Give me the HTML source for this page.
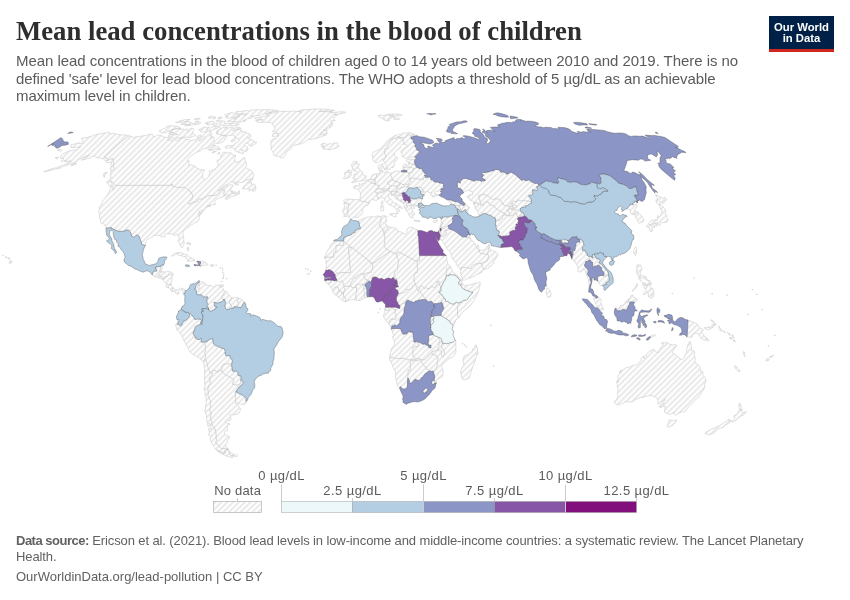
<!DOCTYPE html>
<html lang="en"><head><meta charset="utf-8"><title>Mean lead concentrations in the blood of children</title>
<style>
html,body{margin:0;padding:0;background:#fff;}
body{width:850px;height:600px;position:relative;overflow:hidden;font-family:"Liberation Sans",sans-serif;}
.abs{position:absolute;white-space:nowrap;will-change:transform;}
#title{left:16px;top:15.3px;font-family:"Liberation Serif",serif;font-weight:700;font-size:26.72px;line-height:32px;color:#2e2e2e;letter-spacing:0px;}
.sub{left:16px;font-size:15px;line-height:18px;color:#5b5b5b;}
.foot{left:16px;font-size:13px;line-height:16px;color:#616161;}
#logo{left:769px;top:16px;width:65px;height:33px;background:#002147;border-bottom:3px solid #ce261e;color:#fff;font-weight:700;font-size:11.3px;line-height:11.6px;text-align:center;}
#logo div{position:absolute;left:0;width:65px;text-align:center;}
svg{position:absolute;left:0;top:0;will-change:transform;}
.lg{font-size:13px;fill:#5b5b5b;font-family:"Liberation Sans",sans-serif;letter-spacing:0.42px;}
</style></head>
<body>
<svg width="850" height="600" viewBox="0 0 850 600">
<defs>
 <pattern id="hatch" patternUnits="userSpaceOnUse" width="4.137" height="4.137" patternTransform="rotate(45)">
  <rect width="4.137" height="4.137" fill="#fff"/>
  <line x1="2.79" y1="-1" x2="2.79" y2="6" stroke="#e8e8e8" stroke-width="1.9"/>
 </pattern>
</defs>
<g id="map" stroke-linejoin="round" fill-rule="evenodd">
<g fill="url(#hatch)" stroke="#c2c2c2" stroke-width="0.5">
<path d="M131.3,136.3L133.3,137.4L136.6,136.7L140.5,136.3L145.7,135.4L148.4,134.7L151.7,134.1L152.5,134.5L153.3,136.3L155.4,136.5L157.3,135.0L161.2,135.6L165.2,137.4L169.5,137.6L170.7,138.7L167.3,139.8L172.4,140.3L176.4,139.6L177.1,140.9L180.0,139.8L179.1,138.9L180.9,138.1L184.5,137.8L185.4,138.5L186.1,139.6L188.2,139.4L190.2,140.4L193.2,140.0L195.8,140.0L196.6,138.7L198.4,138.3L200.4,139.1L198.8,141.2L201.2,139.4L202.5,139.5L205.2,137.2L204.5,135.8L203.3,135.0L205.6,132.6L208.9,131.1L210.8,131.3L211.5,132.4L211.8,134.7L209.4,135.8L212.2,136.3L210.3,138.5L213.9,136.8L214.8,138.3L213.1,139.8L213.6,141.4L216.5,139.8L219.2,137.8L221.2,135.4L223.3,135.6L225.6,135.9L227.0,137.0L226.4,138.1L224.2,139.3L224.6,140.5L223.6,141.6L219.2,143.2L216.6,143.5L215.2,142.8L213.9,144.0L210.9,145.9L209.8,146.9L206.5,148.5L203.9,148.6L201.8,149.6L200.6,151.1L198.3,151.5L194.8,153.3L191.0,156.0L189.0,157.9L186.9,160.7L189.5,161.0L188.8,163.3L188.5,165.2L191.4,164.7L194.3,165.8L195.6,166.7L196.3,167.9L198.3,168.6L199.8,169.6L202.8,169.7L204.8,170.0L203.4,172.1L202.7,174.5L202.7,177.4L204.5,179.8L206.4,179.1L208.7,176.4L209.6,172.6L209.0,171.1L212.6,170.1L215.6,168.4L217.6,166.6L218.3,164.9L218.1,162.9L216.8,161.0L220.5,158.5L220.8,156.3L222.4,152.7L224.0,152.1L226.7,152.7L228.3,153.0L230.3,152.4L231.5,153.2L232.9,154.6L233.0,155.4L236.1,155.6L235.1,157.7L234.2,160.6L235.6,161.0L236.3,162.5L239.7,161.1L242.8,158.5L244.4,157.3L244.9,159.5L246.0,162.6L246.8,165.5L245.4,167.0L247.3,168.4L252.4,171.2L252.4,173.3L253.7,173.7L254.1,174.6L253.3,177.4L251.6,178.4L249.9,179.3L246.2,180.2L243.1,182.2L239.6,182.6L235.4,182.1L232.5,182.1L230.3,182.3L228.0,184.1L225.0,185.2L220.9,188.6L217.7,190.9L219.6,190.5L224.0,187.2L229.0,185.0L232.1,184.8L233.5,186.0L231.0,187.7L230.7,190.5L230.8,192.4L233.1,193.7L236.6,193.3L239.5,190.5L239.1,192.3L240.1,193.2L237.1,194.9L232.1,196.5L229.7,197.5L226.8,199.3L225.3,199.2L225.9,197.0L230.1,194.9L226.8,194.9L224.4,195.2L224.5,196.1L224.4,195.2L223.5,193.8L224.7,190.3L224.0,189.6L222.5,190.0L222.1,189.3L219.9,191.3L218.5,193.2L217.4,194.4L216.4,194.8L215.7,194.9L215.3,195.6L208.3,195.6L207.2,196.1L204.0,198.1L203.0,199.1L199.0,199.1L197.9,199.5L198.1,200.1L198.0,200.8L197.8,201.1L194.6,202.4L192.3,202.8L189.4,204.2L188.8,204.2L188.3,203.8L188.3,203.1L189.1,202.2L190.6,200.8L191.8,199.3L192.3,197.0L192.8,194.7L191.1,193.5L191.5,193.1L191.4,192.7L190.8,192.7L190.6,192.3L190.7,191.7L189.9,191.6L189.6,191.4L189.6,190.7L188.4,189.9L187.1,189.1L185.6,188.1L184.1,187.2L182.0,187.9L181.3,187.9L179.1,187.2L177.3,187.6L175.7,186.8L173.8,186.4L172.5,186.2L172.1,185.8L172.4,184.4L171.7,184.4L171.3,185.4L161.5,185.4L151.4,185.4L141.3,185.4L127.2,185.4L121.2,185.4L115.6,185.4L115.6,185.4L115.2,185.4L113.0,182.9L112.4,181.8L109.6,180.7L110.0,178.6L111.5,177.0L109.8,175.9L111.1,173.9L110.3,172.1L111.3,170.8L111.3,170.8L113.3,169.6L114.6,168.1L112.9,166.4L113.7,162.0L113.0,159.8L113.0,158.6L110.5,159.3L107.3,160.8L107.0,158.1L104.1,157.4L110.9,151.0L118.6,144.1L128.4,135.9ZM113.3,186.6L112.1,186.9L109.4,185.9L108.3,184.1L108.5,183.3L106.7,182.8L107.0,181.6L107.5,180.9L109.2,181.4L110.2,181.8L111.9,182.1L112.2,184.1L113.4,185.2ZM105.5,172.7L107.5,172.5L104.6,175.3L104.7,177.3L103.9,177.3L103.6,176.2L103.8,175.0L103.5,174.3L104.0,173.2L104.8,172.4ZM252.8,179.6L251.2,181.1L249.2,183.3L250.8,182.5L252.0,183.0L251.0,183.9L252.5,184.6L253.7,183.9L255.4,184.7L254.3,186.6L255.8,186.2L255.7,187.5L255.9,189.1L254.5,191.3L253.5,191.4L252.3,191.0L253.3,188.9L252.8,188.6L249.8,190.8L248.6,190.7L250.4,189.5L248.6,188.9L246.4,189.0L242.5,188.9L242.4,188.2L243.9,187.3L243.3,186.6L245.5,185.0L248.8,181.0L250.5,179.6L252.5,178.7L253.4,178.8ZM233.8,183.2L234.6,182.9L237.0,183.6L238.6,184.6L238.6,185.1L237.6,185.1L235.2,184.4ZM232.4,190.4L232.7,191.6L234.1,192.0L236.0,191.9L234.7,193.0L233.9,193.1L231.6,192.0L231.3,191.2ZM225.2,128.4L225.3,129.7L228.2,128.0L233.0,127.2L233.9,129.3L232.6,130.7L236.3,130.1L238.4,129.3L241.2,130.3L242.7,131.3L242.2,132.3L245.6,131.8L246.4,133.2L249.8,134.0L250.7,134.9L251.0,136.9L247.3,138.0L250.4,139.4L252.8,139.9L254.2,142.0L256.8,142.2L255.5,143.7L251.0,146.4L249.4,145.4L247.9,143.2L245.4,143.5L244.5,144.8L245.6,146.1L247.5,147.2L247.8,147.8L247.8,150.1L246.4,151.8L244.4,151.2L241.0,149.3L242.4,151.3L243.5,152.7L243.4,153.6L239.0,152.6L235.9,151.3L234.4,150.1L235.3,149.5L233.4,148.3L231.5,147.1L231.1,147.8L225.8,148.2L224.8,147.4L227.0,145.7L230.3,145.6L234.1,145.4L234.0,144.5L235.3,143.4L238.8,141.2L239.0,140.2L238.8,139.4L236.9,138.4L234.0,137.6L235.4,137.0L234.6,135.7L233.2,135.5L232.4,134.8L231.1,135.5L227.9,135.7L222.2,135.2L219.2,134.6L216.8,134.3L216.1,133.5L218.6,132.5L216.3,132.5L217.6,130.3L220.5,128.5L223.0,127.6L227.5,127.1ZM236.2,127.1L239.5,127.4L241.4,128.5L241.1,129.1L239.4,129.0L237.7,129.0L235.7,129.3L235.4,129.2L234.5,128.0L235.2,127.3ZM214.9,144.9L214.5,145.9L215.6,145.5L216.2,146.1L217.6,146.9L219.2,147.6L218.6,148.8L220.0,148.6L220.8,149.3L218.8,150.1L216.4,149.5L216.1,148.5L213.5,149.7L210.2,150.9L210.5,149.5L207.9,149.8L210.2,148.6L211.7,146.8L213.7,144.7ZM216.4,151.3L213.2,153.0L212.0,153.0L212.0,152.3L214.0,151.3ZM219.2,152.5L219.9,152.5L220.1,153.0L218.6,154.3L217.9,154.1L217.9,153.3ZM234.7,138.9L235.7,139.6L235.1,140.5L234.6,140.9L233.1,141.5L231.1,141.6L231.4,140.5L233.0,139.3ZM192.0,133.0L195.7,135.1L194.7,136.1L191.8,136.3L192.1,137.1L190.8,137.9L188.1,137.6L185.7,137.0L183.7,137.1L179.8,137.9L172.0,138.4L172.1,137.3L170.5,136.7L168.7,137.0L168.5,135.3L169.9,135.0L172.8,134.6L175.0,134.8L177.6,134.4L174.9,133.9L171.2,134.0L168.9,134.0L168.9,133.2L173.7,132.3L171.1,132.4L168.9,131.8L172.1,130.2L174.2,129.3L180.0,128.1L181.1,128.5L179.2,129.5L183.5,128.8L184.5,129.9L187.5,128.8L188.2,129.5L187.3,131.6L189.1,130.7L190.2,128.5L192.0,128.2L193.2,128.6L194.1,129.4L193.0,131.5ZM167.8,131.2L166.8,132.2L161.3,133.2L161.5,132.3L159.1,131.1L160.9,130.2L163.9,128.7L167.0,127.3L167.1,126.0L172.9,125.7L174.5,126.2L178.4,126.3L179.2,126.9L179.9,127.7L177.2,128.3L171.6,129.7ZM204.7,127.0L206.1,127.4L209.2,127.1L209.0,127.7L206.5,128.8L208.1,129.7L206.0,131.6L202.5,132.4L201.2,132.2L200.8,131.4L198.4,129.8L199.1,129.1L202.1,129.3L201.8,128.0ZM213.8,129.2L210.7,130.8L208.9,130.7L209.7,128.9L210.7,127.8L212.4,126.9L214.5,126.4L217.7,126.4L220.2,126.9L216.1,128.8ZM201.7,135.5L202.4,135.9L202.5,136.3L202.8,137.1L201.2,137.9L199.5,137.2L197.9,137.5L196.5,136.5L198.5,135.8L200.5,134.9ZM221.6,121.0L224.6,121.0L225.2,121.7L224.1,122.4L225.3,122.9L225.8,123.4L227.8,123.4L229.9,123.6L232.8,123.2L236.0,123.0L238.4,123.2L239.4,123.9L239.0,124.8L237.5,125.3L234.8,125.7L233.0,125.5L228.2,125.8L225.0,125.8L222.7,125.6L219.2,124.9L219.8,123.8L220.7,122.8L220.2,121.9L217.3,121.7L216.2,121.1L217.8,120.3L220.7,120.4ZM269.8,109.8L273.3,110.0L276.1,110.2L278.2,110.6L277.8,111.0L273.8,111.7L270.1,112.0L268.5,112.4L271.5,112.4L267.3,113.4L264.5,113.9L260.7,115.3L257.5,115.6L256.2,115.9L251.6,116.1L253.4,116.4L252.0,116.7L252.4,117.6L250.3,118.3L247.5,118.8L246.0,119.6L243.4,120.2L243.1,120.6L245.8,120.5L245.4,121.0L240.2,122.2L236.7,121.7L231.9,122.0L229.9,121.7L227.2,121.6L228.0,120.7L231.3,120.2L232.1,118.8L233.2,118.7L236.2,119.5L235.5,118.3L233.6,117.9L235.6,117.2L238.6,116.8L239.8,116.1L238.6,115.4L239.0,114.5L242.8,114.6L243.7,114.8L246.6,114.1L243.7,113.9L238.6,114.0L236.8,113.5L236.5,112.8L235.4,112.3L235.9,111.7L238.3,111.4L240.0,111.4L243.1,111.1L245.8,110.5L247.4,110.6L248.4,111.1L250.4,110.2L252.5,110.0L255.2,109.8L259.4,109.7L259.9,109.9L264.1,109.7L267.0,109.7ZM237.7,115.5L238.7,116.1L236.1,116.7L231.8,118.1L229.1,118.2L226.3,118.0L225.6,117.2L226.5,116.5L228.2,116.0L225.5,116.1L224.7,115.4L224.8,114.7L226.8,113.9L228.5,113.4L230.1,113.3L230.0,112.9L233.4,112.8L234.0,113.7L235.9,114.1L237.9,114.4ZM198.0,122.2L197.8,122.9L199.5,122.6L201.0,122.6L200.1,123.6L198.0,124.6L192.4,124.9L187.4,125.8L184.9,125.8L185.5,125.2L189.9,124.3L182.6,124.5L180.9,124.2L185.6,122.2L187.9,121.6L191.2,122.3L192.4,123.5L194.9,123.6L195.2,121.7L197.5,121.0L198.8,121.2ZM214.2,122.1L213.0,123.1L210.6,124.6L207.9,124.8L206.6,124.5L207.9,123.3L205.2,123.5L207.0,121.9L208.6,122.0L211.7,121.3L213.7,121.4ZM190.0,119.3L187.6,120.8L185.4,121.5L183.9,121.6L179.8,122.5L176.9,122.8L175.5,122.3L180.2,120.9L185.2,119.6L187.5,119.6ZM217.2,123.3L217.8,124.0L216.0,125.4L213.9,125.3L212.6,124.7L214.4,123.8ZM219.1,117.0L220.8,117.0L221.6,117.2L222.5,117.8L221.3,118.5L218.6,118.9L217.9,118.5L218.2,117.7ZM208.2,117.9L210.4,117.3L209.3,116.9L210.1,116.2L212.7,116.4L215.7,117.1L215.6,118.0L215.2,118.8L213.1,118.6L211.4,118.0ZM194.2,119.1L196.2,118.5L198.7,118.3L200.3,118.6L199.0,119.2L195.5,119.8Z"/>
<path d="M115.6,185.4L121.2,185.4L127.2,185.4L141.3,185.4L151.4,185.4L161.5,185.4L171.3,185.4L171.7,184.4L172.4,184.4L172.1,185.8L172.5,186.2L173.8,186.4L175.7,186.8L177.3,187.6L179.1,187.2L181.3,187.9L182.0,187.9L184.1,187.2L185.6,188.1L187.1,189.1L188.4,189.9L189.6,190.7L189.6,191.4L189.9,191.6L190.7,191.7L190.6,192.3L190.8,192.7L191.4,192.7L191.5,193.1L191.1,193.5L192.8,194.7L192.3,197.0L191.8,199.3L190.6,200.8L189.1,202.2L188.3,203.1L188.3,203.8L188.8,204.2L189.4,204.2L192.3,202.8L194.6,202.4L197.8,201.1L198.0,200.8L198.1,200.1L197.9,199.5L199.0,199.1L203.0,199.1L204.0,198.1L207.2,196.1L208.3,195.6L215.3,195.6L215.7,194.9L216.4,194.8L217.4,194.4L218.5,193.2L219.9,191.3L222.1,189.3L222.5,190.0L224.0,189.6L224.7,190.3L223.5,193.8L224.4,195.2L224.5,196.1L224.5,196.1L221.9,197.3L219.4,198.2L217.0,199.0L215.4,200.5L214.4,202.5L215.5,204.4L213.1,204.6L210.4,205.2L207.1,206.1L210.4,205.6L210.8,206.1L207.6,206.9L206.3,206.9L205.6,207.3L206.2,207.4L205.1,209.3L203.0,211.3L203.0,210.6L202.6,210.5L202.1,209.8L202.1,211.2L202.5,211.7L202.3,212.7L201.3,213.7L199.5,215.8L199.3,215.7L200.5,213.9L199.7,212.9L200.1,210.7L199.3,211.9L199.3,213.5L198.0,213.1L199.2,214.0L198.6,216.4L199.2,216.6L199.2,217.5L198.8,220.1L196.9,222.1L194.4,222.9L192.6,224.4L191.5,224.6L190.1,225.5L189.6,226.4L186.8,228.1L185.2,229.3L183.8,230.9L183.0,232.7L183.0,234.6L183.3,236.8L183.9,238.7L183.7,239.8L184.2,242.8L183.8,244.6L183.6,245.6L182.8,247.2L182.0,247.5L181.0,247.2L180.8,246.1L180.1,245.5L179.3,243.2L178.6,241.2L178.4,240.2L179.3,238.5L178.9,237.0L177.7,234.8L176.9,234.4L174.4,235.6L174.0,235.5L173.2,234.3L172.0,233.6L169.4,234.0L167.5,233.7L165.8,233.8L164.8,234.2L165.0,234.9L164.7,236.0L165.1,236.5L164.6,236.9L163.8,236.5L162.9,237.0L161.3,236.9L160.0,235.5L158.0,235.8L156.5,235.2L155.1,235.4L153.1,236.0L150.6,238.0L148.1,239.1L146.6,240.3L145.8,241.5L145.4,243.3L145.3,244.6L145.5,245.5L145.5,245.5L144.7,245.5L141.6,244.1L141.1,241.2L140.2,239.6L139.1,236.2L137.7,235.2L135.9,235.3L134.1,237.4L131.4,235.7L131.0,233.1L128.6,230.1L124.9,230.1L124.5,231.3L118.3,231.3L111.0,228.1L111.4,227.6L106.0,228.1L106.0,228.1L106.1,226.7L105.2,225.2L104.3,224.9L104.4,224.1L103.2,224.0L102.7,223.3L100.8,223.0L100.4,222.6L100.7,221.2L99.7,218.5L99.5,214.9L99.9,214.3L99.3,213.5L98.7,211.3L99.5,209.1L99.1,207.7L100.7,205.6L101.8,203.3L102.3,201.4L104.5,198.9L107.8,194.3L109.5,190.8L110.2,188.6L110.4,187.5L110.9,186.9L113.3,187.8L112.9,190.2L113.8,189.6L114.8,187.5L115.6,185.4ZM128.4,135.9L125.5,134.8L121.9,134.9L119.0,134.7L116.5,134.0L112.9,133.4L109.4,133.7L109.6,132.7L107.8,132.2L103.6,133.4L102.3,133.2L95.8,134.5L90.6,136.6L87.1,137.5L84.0,137.6L81.3,138.8L82.6,139.5L83.0,140.4L82.6,141.6L83.6,142.4L83.1,143.8L81.1,142.8L79.3,143.9L79.7,142.8L74.8,143.9L70.6,144.9L71.2,146.2L70.5,147.1L72.4,147.7L75.2,147.4L75.9,147.9L77.1,147.4L79.6,146.9L80.7,146.9L78.3,147.8L78.7,148.2L77.7,149.2L75.5,150.0L74.4,149.8L71.6,150.9L70.8,150.5L69.2,150.7L67.0,151.9L63.9,153.2L61.5,154.6L61.6,155.6L60.0,156.9L60.6,157.5L60.8,158.6L63.7,158.2L63.9,159.0L62.5,159.9L61.0,161.3L62.2,161.3L65.1,160.4L64.5,161.6L65.9,160.7L65.8,162.0L67.8,161.1L67.9,161.5L70.9,160.7L68.3,162.2L66.0,164.0L63.7,164.9L59.8,166.4L58.5,166.8L56.5,167.8L53.8,168.1L50.3,169.5L47.6,170.2L44.3,171.4L44.1,171.8L48.2,171.1L50.7,170.3L53.5,169.4L56.0,168.7L57.2,168.9L60.5,167.9L62.3,166.7L66.6,165.5L68.3,164.4L71.0,163.6L74.1,162.6L77.7,160.9L77.6,159.7L82.2,158.0L85.2,156.4L89.0,155.1L88.8,155.7L86.1,156.4L82.7,158.8L81.4,160.2L84.0,159.7L86.5,158.8L90.4,158.2L91.8,156.5L94.4,156.0L95.4,157.1L97.9,158.1L100.7,158.0L104.3,159.3L105.7,161.8L107.2,162.5L110.1,162.5L111.8,162.7L110.7,165.0L111.3,167.0L110.0,169.1L111.0,169.9L111.3,170.8L111.3,170.8L113.3,169.6L114.6,168.1L112.9,166.4L113.7,162.0L113.0,159.8L113.0,158.6L110.5,159.3L107.3,160.8L107.0,158.1L104.1,157.4L110.9,151.0L118.6,144.1L128.4,135.9ZM76.7,163.9L76.2,163.0L75.4,163.0L73.2,163.8L71.4,164.3L70.6,165.4L71.5,165.8L73.7,165.1L75.2,164.4ZM58.3,149.2L58.8,149.7L60.2,149.4L60.9,150.0L62.2,150.3L61.8,150.6L59.8,151.1L59.1,150.6L59.0,150.2L57.2,150.3L57.1,150.1ZM57.6,157.2L58.8,157.5L57.8,158.4L56.2,158.7L55.6,158.3L55.2,157.6ZM10.2,263.2L9.7,263.6L9.2,263.3L9.5,262.5L9.3,261.6L9.5,261.3L10.0,260.9L10.0,260.4L10.2,260.1L11.4,260.8L11.7,261.2L12.1,262.1L11.0,262.8ZM9.9,259.1L9.1,259.3L8.8,258.8L8.6,258.6L8.6,258.4L8.9,258.2L9.7,258.4L10.1,258.8ZM8.7,257.7L8.5,258.0L7.3,257.9L7.6,257.6ZM6.8,257.4L6.6,257.5L5.7,257.4L5.5,256.8L5.5,256.7L6.1,256.3L6.3,256.5ZM3.3,255.6L3.0,255.9L2.4,255.4L2.5,255.2L2.9,255.0L3.4,255.0Z"/>
<path d="M162.5,264.7L162.5,265.1L162.9,265.1L162.8,265.8L162.3,267.0L162.4,267.4L162.1,268.3L162.2,268.6L161.7,269.9L161.2,270.6L160.8,270.7L160.3,271.6L159.6,271.6L160.1,268.6L160.4,266.6L160.4,266.2L160.7,266.1L161.1,266.4L162.1,264.8Z"/>
<path d="M152.3,275.1L152.5,274.3L152.8,273.7L152.5,273.2L153.9,271.1L156.8,271.1L157.0,270.2L156.6,270.1L156.4,269.5L155.7,268.9L154.9,268.0L156.0,268.0L156.1,266.5L158.3,266.5L160.4,266.6L160.1,268.6L159.6,271.6L160.3,271.6L161.0,272.0L161.2,271.7L161.8,272.0L160.7,273.0L159.5,273.7L159.3,274.2L159.4,274.7L158.9,275.4L158.3,275.6L158.4,275.9L158.0,276.2L157.1,276.8L157.0,277.2L155.9,276.8L154.5,276.7L153.5,276.2Z"/>
<path d="M157.0,277.2L157.1,276.8L158.0,276.2L158.4,275.9L158.3,275.6L158.9,275.4L159.5,275.6L160.0,276.2L160.6,276.6L160.7,276.9L161.7,276.6L162.2,276.8L162.5,277.1L162.2,278.1L161.9,278.7L160.6,278.7L159.8,278.5L158.9,277.9L157.6,277.8Z"/>
<path d="M162.2,278.1L162.5,277.1L162.2,276.8L161.7,276.6L160.7,276.9L160.6,276.6L160.0,276.2L159.5,275.6L158.9,275.4L159.4,274.7L159.3,274.2L159.5,273.7L160.7,273.0L161.8,272.0L162.0,272.1L162.6,271.7L163.2,271.6L163.4,271.8L163.8,271.7L164.8,271.9L165.9,271.9L166.7,271.6L167.0,271.3L167.7,271.4L168.2,271.6L168.8,271.5L169.3,271.3L170.3,271.7L170.6,271.7L171.3,272.2L171.9,272.8L172.7,273.2L173.2,273.9L172.4,273.9L172.1,274.2L171.2,274.6L170.7,274.6L170.1,274.9L169.7,274.8L169.3,274.4L169.1,274.5L168.7,275.1L168.5,275.1L168.4,275.6L167.6,276.3L167.1,276.6L166.9,276.9L166.2,276.4L165.7,277.1L165.2,277.1L164.6,277.2L164.6,278.5L164.2,278.5L163.9,279.1L163.2,279.2L162.9,278.4L162.2,278.1Z"/>
<path d="M163.2,279.2L163.9,279.1L164.2,278.5L164.6,278.5L164.6,277.2L165.2,277.1L165.7,277.1L166.2,276.4L166.9,276.9L167.1,276.6L167.6,276.3L168.4,275.6L168.5,275.1L168.7,275.1L169.1,274.5L169.3,274.4L169.7,274.8L170.1,274.9L170.7,274.6L171.2,274.6L172.1,274.2L172.4,273.9L173.2,273.9L173.0,274.2L172.8,274.7L173.0,275.7L172.4,276.6L172.0,277.6L171.8,278.8L171.9,279.5L171.9,280.7L171.5,280.9L171.2,282.0L171.3,282.7L170.8,283.4L170.8,284.1L171.2,284.5L170.6,285.1L169.9,284.9L169.6,284.4L168.9,284.2L168.3,284.5L166.8,283.8L166.5,284.1L165.7,283.3L164.7,282.3L164.3,281.4L163.4,280.5L162.4,279.4L162.6,279.0L163.0,279.4Z"/>
<path d="M173.5,288.1L172.6,288.3L172.5,289.4L173.0,289.8L172.6,290.1L172.7,290.6L172.5,291.1L172.3,291.6L171.1,291.0L170.7,290.5L170.9,290.0L170.9,289.5L170.3,288.8L169.4,288.3L168.7,288.0L168.6,287.2L168.0,286.8L168.1,287.5L167.6,288.1L167.1,287.4L166.4,287.2L166.1,286.6L166.2,285.8L166.5,285.0L165.9,284.6L166.5,284.1L166.8,283.8L168.3,284.5L168.9,284.2L169.6,284.4L169.9,284.9L170.6,285.1L171.2,284.5L171.7,285.9L172.5,287.0Z"/>
<path d="M185.3,290.5L185.0,290.9L185.4,292.4L185.0,293.2L184.2,293.0L183.9,294.3L183.2,293.5L182.7,292.1L183.3,291.4L182.7,291.2L182.4,290.3L181.3,289.6L180.2,289.8L179.7,290.7L178.8,291.4L178.3,291.4L178.0,292.0L179.1,293.4L178.4,293.7L178.1,294.1L177.0,294.3L176.7,292.7L176.3,293.1L175.6,293.0L175.2,291.9L174.2,291.7L173.7,291.5L172.7,291.5L172.6,292.0L172.3,291.6L172.5,291.1L172.7,290.6L172.6,290.1L173.0,289.8L172.5,289.4L172.6,288.3L173.5,288.1L174.2,289.1L174.2,289.6L175.1,289.7L175.3,289.5L175.9,290.2L177.0,290.0L178.1,289.3L179.5,288.8L180.3,288.0L181.6,288.2L181.5,288.4L182.7,288.5L183.7,288.9L184.4,289.7Z"/>
<path d="M177.7,252.5L179.7,252.7L181.4,252.7L183.4,253.6L184.2,254.5L186.3,254.3L187.1,254.9L188.8,256.5L190.1,257.7L190.8,257.6L192.1,258.2L191.9,258.9L193.5,259.0L195.1,260.1L194.8,260.7L193.2,261.0L191.7,261.2L190.1,261.0L186.9,261.2L188.5,259.7L187.7,259.1L186.3,258.9L185.6,258.1L185.2,256.6L183.9,256.7L181.9,256.0L181.3,255.5L178.4,255.1L177.7,254.6L178.6,253.9L176.4,253.8L174.6,255.1L173.7,255.2L173.3,255.8L172.1,256.1L171.2,255.9L172.5,255.1L173.1,254.1L174.2,253.5L175.4,253.0Z"/>
<path d="M200.5,261.6L200.8,261.1L202.6,261.1L203.9,261.8L204.5,261.7L204.8,262.7L206.1,262.6L205.9,263.4L206.9,263.5L207.9,264.5L207.0,265.5L206.0,265.0L204.9,265.1L204.2,264.9L203.7,265.4L202.8,265.6L202.5,264.9L201.7,265.3L200.7,267.1L200.1,266.7L200.1,266.0L200.2,265.2L199.7,264.4L200.3,264.0L200.6,263.0Z"/>
<path d="M212.5,264.7L213.7,264.9L214.0,265.5L213.4,266.1L211.7,266.1L210.3,266.2L210.3,265.1L210.7,264.7Z"/>
<path d="M188.6,251.0L188.0,251.1L187.7,249.6L186.9,248.8L187.7,247.2L188.3,247.3L188.8,249.5ZM189.1,243.6L186.6,244.0L186.6,243.1L187.7,242.8L189.1,242.9ZM190.9,243.6L190.2,245.4L189.9,245.1L190.1,243.7L189.3,242.7L189.3,242.4Z"/>
<path d="M221.5,285.0L222.9,284.7L223.3,284.7L223.2,286.7L221.2,287.0L220.8,286.8L221.5,286.0Z"/>
<path d="M298.9,110.6L304.1,109.7L308.8,109.7L310.9,109.2L315.7,109.0L326.4,109.2L334.5,110.4L331.8,111.0L326.5,111.1L319.0,111.3L319.5,111.5L324.5,111.4L328.5,111.9L331.3,111.4L332.3,112.0L330.5,113.0L334.2,112.4L341.1,111.7L345.2,112.0L345.9,112.7L339.9,113.9L339.0,114.3L334.4,114.6L337.7,114.7L335.7,116.0L334.2,117.2L333.7,119.3L335.2,120.6L332.8,120.7L330.2,121.3L332.7,122.4L332.7,124.1L331.0,124.3L332.7,126.0L329.1,126.2L330.8,127.0L330.1,127.8L327.8,128.1L325.6,128.1L327.3,129.5L327.1,130.5L324.1,129.6L323.1,130.1L325.2,130.7L327.0,132.0L327.3,133.7L324.2,134.1L323.2,133.3L321.4,132.1L321.6,133.5L319.5,134.7L323.8,134.8L326.1,134.9L321.2,136.8L316.2,138.5L311.1,139.3L309.2,139.3L307.2,140.2L304.2,142.6L300.0,144.2L298.8,144.2L296.3,144.8L293.6,145.3L291.7,146.8L291.1,148.4L289.7,149.9L286.2,151.8L286.3,153.6L284.9,155.6L283.2,157.9L280.6,158.1L278.5,156.1L274.9,156.1L273.6,154.8L273.2,152.5L271.3,149.6L271.0,148.1L271.6,146.0L270.1,143.9L271.5,142.2L270.7,141.4L273.5,138.8L276.4,138.0L277.5,137.0L278.7,135.3L276.4,136.1L275.3,136.4L273.7,136.7L272.0,136.0L272.6,134.5L273.8,133.4L275.4,133.3L278.5,133.9L276.3,132.6L275.2,131.8L273.4,132.1L272.4,131.6L275.2,129.6L274.7,128.8L274.2,127.4L273.7,125.2L272.2,124.4L272.8,123.5L269.5,122.4L266.4,122.2L262.2,122.3L258.4,122.5L257.1,121.8L255.6,120.6L260.0,119.9L263.2,119.8L257.2,119.3L254.6,118.5L255.5,117.8L261.8,116.9L267.9,116.0L269.1,115.4L265.8,114.7L267.6,114.0L273.6,112.9L275.8,112.7L275.9,111.9L279.5,111.5L284.0,111.3L288.3,111.3L289.4,111.7L293.7,110.9L296.6,111.5L298.4,111.6L301.0,112.1L298.2,111.3Z"/>
<path d="M199.6,282.3L199.5,283.0L198.1,283.3L198.8,284.4L198.7,285.8L197.6,287.3L198.3,289.4L199.3,289.2L199.9,287.4L199.3,286.4L199.3,284.4L202.2,283.4L202.0,282.1L202.8,281.3L203.5,283.2L205.1,283.2L206.5,284.7L206.6,285.5L208.6,285.5L211.1,285.3L212.3,286.5L214.1,286.8L215.4,286.0L215.5,285.3L218.3,285.2L221.1,285.1L219.1,285.9L219.8,287.1L221.6,287.3L223.3,288.6L223.6,290.7L224.8,290.6L225.7,291.3L223.8,292.8L223.6,293.8L224.3,294.7L223.7,295.2L222.3,295.6L222.3,296.8L221.7,297.6L223.2,299.5L223.5,300.3L222.6,301.3L220.0,302.3L218.3,302.7L217.7,303.3L215.8,302.6L214.1,302.3L213.7,302.5L214.7,303.2L214.6,305.0L214.9,306.6L216.8,306.8L216.9,307.4L215.3,308.1L215.0,309.3L214.1,309.7L212.3,310.3L211.9,311.1L210.1,311.3L208.8,309.9L208.2,307.3L207.6,306.3L206.7,305.8L207.9,304.5L207.9,303.9L207.2,303.1L206.8,301.4L207.0,299.5L207.6,298.6L208.0,297.2L207.2,296.7L205.9,297.1L204.3,296.9L203.3,297.2L201.8,294.9L200.5,294.6L197.5,294.9L197.0,293.9L196.4,293.7L196.4,293.2L196.7,292.2L196.5,291.1L196.1,290.6L195.8,289.4L194.7,289.2L195.4,287.7L195.7,285.8L196.5,284.8L197.4,284.1L198.1,282.8Z"/>
<path d="M225.7,291.3L227.2,292.2L228.5,293.9L228.6,295.3L229.4,295.3L230.6,296.6L231.5,297.5L231.1,299.9L229.7,300.6L229.8,301.2L229.3,302.5L230.3,304.4L231.0,304.4L231.3,305.9L232.7,308.2L232.1,308.3L230.8,308.0L230.1,308.8L229.0,309.2L228.3,309.3L228.0,309.8L226.9,309.7L225.5,308.5L225.4,307.3L224.8,305.9L225.2,303.7L225.9,302.8L225.4,301.6L224.6,301.2L224.9,300.0L224.4,299.4L223.2,299.5L221.7,297.6L222.3,296.8L222.3,295.6L223.7,295.2L224.3,294.7L223.6,293.8L223.8,292.8Z"/>
<path d="M231.5,297.5L234.2,298.1L234.5,297.6L236.4,297.4L238.8,298.1L237.6,300.3L237.7,302.1L238.6,303.7L238.2,304.8L237.9,306.0L237.3,307.1L236.0,306.6L234.9,306.8L234.0,306.6L233.8,307.3L234.1,307.9L233.9,308.4L232.7,308.2L231.3,305.9L231.0,304.4L230.3,304.4L229.3,302.5L229.8,301.2L229.7,300.6L231.1,299.9Z"/>
<path d="M238.8,298.1L241.3,299.0L243.7,301.2L244.0,302.3L242.6,304.7L241.9,306.6L241.0,307.6L239.9,307.8L239.6,307.1L239.1,306.9L238.3,307.6L237.3,307.1L237.9,306.0L238.2,304.8L238.6,303.7L237.7,302.1L237.6,300.3Z"/>
<path d="M204.8,359.1L204.3,360.5L203.2,361.2L200.7,359.6L200.5,358.6L195.7,356.0L191.3,353.1L189.4,351.5L188.3,349.3L188.6,348.6L186.4,345.1L183.8,340.3L181.4,335.1L180.4,333.9L179.6,332.0L177.7,330.3L176.0,329.2L176.7,328.0L175.5,325.6L176.2,323.7L178.0,322.0L178.3,323.1L177.6,323.8L177.7,324.7L178.7,324.5L179.6,324.8L180.6,326.1L181.9,325.1L182.3,323.3L183.6,321.0L186.4,320.0L188.9,317.2L189.6,315.5L189.2,313.5L189.8,313.3L191.4,314.5L192.1,315.8L193.2,316.4L194.6,319.2L196.3,319.5L197.6,318.8L198.4,319.3L199.8,319.1L201.6,320.3L200.2,322.9L200.8,323.0L202.0,324.4L200.0,324.3L199.6,324.7L197.8,325.2L195.2,326.9L195.1,328.2L194.5,329.1L194.8,330.5L193.4,331.3L193.5,332.4L192.9,332.8L193.9,335.2L195.3,336.8L194.9,337.9L196.4,338.1L197.3,339.4L199.4,339.5L201.2,338.0L201.2,342.0L202.3,342.2L203.6,341.8L205.8,346.0L205.4,346.9L205.4,348.7L205.5,351.0L204.7,352.3L205.2,353.2L204.8,354.1L205.9,356.3Z"/>
<path d="M221.2,370.8L218.6,370.7L217.9,372.8L216.4,370.9L213.4,370.3L211.8,372.6L210.2,373.0L208.9,369.4L207.4,366.4L207.9,363.9L206.5,362.8L206.1,360.9L204.8,359.1L205.9,356.3L204.8,354.1L205.2,353.2L204.7,352.3L205.5,351.0L205.4,348.7L205.4,346.9L205.8,346.0L203.6,341.8L205.3,342.0L206.5,342.0L206.9,341.2L208.9,340.1L210.0,339.1L213.0,338.7L212.9,340.6L213.2,341.7L213.1,343.4L215.7,345.8L218.3,346.2L219.3,347.2L220.9,347.7L221.9,348.4L223.3,348.4L224.7,349.2L224.9,350.7L225.4,351.5L225.5,352.6L224.8,352.6L225.9,355.7L230.3,355.8L230.1,357.3L230.4,358.3L231.7,359.1L232.4,360.7L232.1,362.8L231.6,363.9L232.0,365.4L231.3,365.9L231.2,365.1L229.0,363.8L226.9,363.8L223.0,364.5L222.1,366.8L222.2,368.2L221.6,371.4Z"/>
<path d="M221.6,371.4L222.2,368.2L222.1,366.8L223.0,364.5L226.9,363.8L229.0,363.8L231.2,365.1L231.3,365.9L232.1,367.4L232.3,370.9L234.7,371.4L235.6,370.9L237.2,371.7L237.7,372.4L238.1,374.8L238.4,375.8L239.3,375.9L240.1,375.5L241.0,376.0L241.1,377.4L240.9,379.0L240.7,380.5L240.6,382.8L238.8,384.8L237.1,385.2L234.5,384.8L232.2,384.1L233.9,380.1L233.4,379.0L231.0,378.0L228.0,376.0L226.2,375.6Z"/>
<path d="M235.5,392.2L236.9,391.9L239.5,393.9L240.3,393.9L242.8,395.5L244.8,397.0L246.3,398.8L245.6,400.0L246.4,401.5L245.8,403.2L243.6,404.6L241.9,404.1L240.7,404.4L238.5,403.2L237.1,403.3L235.5,401.9L235.3,400.2L235.7,399.6L235.2,397.0L235.3,394.3Z"/>
<path d="M216.4,370.9L217.9,372.8L218.6,370.7L221.2,370.8L221.6,371.4L226.2,375.6L228.0,376.0L231.0,378.0L233.4,379.0L233.9,380.1L232.2,384.1L234.5,384.8L237.1,385.2L238.8,384.8L240.6,382.8L240.7,380.5L241.7,380.0L243.0,381.5L243.2,383.6L241.5,385.0L240.1,386.1L238.0,388.6L235.5,392.2L235.3,394.3L235.2,397.0L235.7,399.6L235.3,400.2L235.5,401.9L235.6,403.2L238.8,405.5L238.8,407.3L240.4,408.4L240.6,409.7L239.2,413.0L236.4,414.4L232.2,415.0L229.8,414.7L230.6,416.3L230.7,418.2L231.4,419.5L230.4,420.4L228.3,420.8L226.0,419.8L225.4,420.5L226.4,423.1L228.1,423.9L229.0,423.1L230.0,424.4L228.3,425.2L227.1,426.8L227.6,429.4L227.5,430.8L225.6,430.8L224.4,432.1L224.5,434.0L227.1,435.9L229.2,436.4L229.3,438.7L227.4,440.2L227.2,443.1L225.7,444.1L225.4,445.3L227.1,447.9L229.0,449.4L228.1,449.3L226.1,448.9L221.2,448.5L219.8,447.1L219.0,445.2L217.7,445.3L216.7,444.4L215.4,441.7L216.5,440.6L216.5,439.0L215.8,437.7L216.1,435.5L215.7,432.1L214.9,430.6L215.6,430.1L215.1,429.2L214.0,428.7L214.3,427.6L213.0,426.6L211.5,423.6L212.2,423.1L210.8,419.9L210.5,417.3L210.5,415.0L211.5,414.0L210.1,411.5L209.5,409.1L210.7,407.4L210.1,405.2L210.8,402.6L210.2,400.2L209.6,399.7L207.6,395.2L208.4,392.5L207.7,390.0L208.1,387.6L209.2,385.2L210.5,383.5L209.7,382.5L210.0,381.7L209.3,377.3L211.6,376.0L212.1,373.3L211.8,372.6L213.4,370.3ZM228.3,450.1L229.6,451.3L231.3,453.1L234.5,454.6L237.5,455.2L237.1,456.5L235.3,456.6L234.0,455.7L232.8,455.7L230.7,455.7Z"/>
<path d="M228.3,450.1L230.7,455.7L232.8,455.7L234.0,455.7L233.8,456.7L232.5,457.5L231.5,457.4L230.3,457.2L228.5,456.5L226.4,456.1L223.3,454.7L220.7,453.4L216.7,450.6L218.6,451.1L222.1,452.8L225.1,453.7L225.6,452.6L225.4,450.8L226.8,449.8ZM204.8,359.1L206.1,360.9L206.5,362.8L207.9,363.9L207.4,366.4L208.9,369.4L210.2,373.0L211.8,372.6L212.1,373.3L211.6,376.0L209.3,377.3L210.0,381.7L209.7,382.5L210.5,383.5L209.2,385.2L208.1,387.6L207.7,390.0L208.4,392.5L207.6,395.2L209.6,399.7L210.2,400.2L210.8,402.6L210.1,405.2L210.7,407.4L209.5,409.1L210.1,411.5L211.5,414.0L210.5,415.0L210.5,417.3L210.8,419.9L212.2,423.1L211.5,423.6L213.0,426.6L214.3,427.6L214.0,428.7L215.1,429.2L215.6,430.1L214.9,430.6L215.7,432.1L216.1,435.5L215.8,437.7L216.5,439.0L216.5,440.6L215.4,441.7L216.7,444.4L217.7,445.3L219.0,445.2L219.8,447.1L221.2,448.5L226.1,448.9L228.1,449.3L226.3,449.2L225.7,449.9L224.3,450.8L225.0,453.1L224.2,453.2L221.6,452.3L218.6,450.6L215.5,449.2L214.2,447.6L214.1,446.1L212.4,444.4L210.3,440.1L210.2,437.6L211.6,435.7L208.3,434.9L209.4,432.7L208.5,428.4L211.2,429.3L210.4,423.9L208.8,423.3L209.2,426.5L207.8,426.1L207.2,422.4L206.4,417.6L206.8,415.8L205.5,413.3L204.5,410.4L205.4,410.3L205.6,406.1L206.1,401.9L206.2,398.0L204.8,394.0L205.1,391.9L204.2,388.7L205.0,385.5L204.6,380.4L204.6,375.0L204.7,369.1L204.0,364.9L203.2,361.2L204.3,360.5Z"/>
<path d="M338.0,143.1L337.4,144.5L339.2,146.1L336.7,147.9L331.4,149.5L329.8,149.9L327.5,149.5L322.7,148.8L324.6,147.8L321.0,146.6L324.2,146.2L324.2,145.5L320.7,145.0L322.1,143.5L324.8,143.2L327.3,144.7L330.1,143.5L332.2,144.1L335.2,142.9Z"/>
<path d="M409.0,132.6L414.6,134.2L412.6,134.8L414.8,136.1L412.2,137.0L410.9,137.2L411.3,135.7L408.9,134.8L406.5,135.5L406.1,137.2L404.7,138.1L402.8,137.6L400.6,137.7L398.5,136.6L397.6,137.1L396.6,137.2L396.6,138.7L393.3,138.3L393.1,139.6L391.5,139.6L390.6,141.2L389.2,143.7L386.8,146.9L387.6,147.7L387.0,148.6L385.3,148.5L384.3,150.7L384.7,153.9L386.0,155.1L385.7,157.9L384.3,159.5L383.6,160.9L382.2,159.4L378.7,162.2L376.2,162.8L373.6,161.5L372.8,159.0L372.0,153.5L373.6,152.0L378.3,150.0L381.6,147.6L384.5,144.4L388.1,140.0L390.7,138.3L394.9,135.6L398.3,134.6L401.1,134.7L403.2,132.9L406.2,133.0ZM399.7,118.9L396.6,119.7L393.9,119.2L394.8,118.7L393.7,118.1L396.7,117.8L397.5,118.5ZM389.3,115.5L394.4,116.8L391.0,117.6L390.5,118.9L389.2,119.3L388.9,121.0L387.1,121.0L383.6,119.8L384.8,119.1L382.5,118.6L379.4,117.0L378.1,115.6L381.9,114.9L382.8,115.5L384.8,115.5L385.3,114.9L387.4,114.8ZM399.3,114.2L402.3,114.8L400.5,115.8L396.3,116.0L392.0,115.7L391.6,115.2L389.5,115.2L387.8,114.4L392.1,113.9L394.2,114.3L395.5,113.8Z"/>
<path d="M401.6,144.7L400.2,146.3L400.7,147.8L398.2,149.6L395.0,151.6L394.2,155.0L395.7,156.6L397.6,158.0L396.3,160.7L394.4,161.2L394.2,165.3L393.3,167.6L391.0,167.4L390.1,169.3L387.9,169.4L387.1,167.1L385.3,164.3L383.6,160.9L384.3,159.5L385.7,157.9L386.0,155.1L384.7,153.9L384.3,150.7L385.3,148.5L387.0,148.6L387.6,147.7L386.8,146.9L389.2,143.7L390.6,141.2L391.5,139.6L393.1,139.6L393.3,138.3L396.6,138.7L396.6,137.2L397.6,137.1L400.0,138.2L403.0,139.7L403.7,143.2L404.5,144.1Z"/>
<path d="M410.9,137.2L411.1,138.8L414.0,140.3L412.9,142.0L415.5,144.5L414.8,146.5L416.8,148.2L416.5,149.8L419.5,151.3L419.1,152.5L417.7,153.9L414.5,157.0L411.2,157.1L408.1,158.0L405.2,158.5L403.9,157.2L402.0,156.4L402.1,154.1L400.8,152.0L401.5,150.6L402.8,149.1L406.4,146.6L407.5,146.1L407.1,145.2L404.5,144.1L403.7,143.2L403.0,139.7L400.0,138.2L397.6,137.1L398.5,136.6L400.6,137.7L402.8,137.6L404.7,138.1L406.1,137.2L406.5,135.5L408.9,134.8L411.3,135.7Z"/>
<path d="M387.3,168.8L386.3,170.8L384.2,169.4L383.9,168.4L386.6,167.6ZM383.8,166.7L383.4,167.7L382.8,167.4L381.5,169.2L382.1,170.4L380.9,170.7L379.5,170.4L378.6,169.0L378.4,166.5L378.7,165.9L379.2,165.1L380.8,165.0L381.5,164.3L382.9,163.6L383.0,164.9L382.5,165.7L382.7,166.4Z"/>
<path d="M352.1,171.4L351.0,173.1L349.5,172.6L348.3,172.7L348.8,171.3L348.5,170.0L350.1,169.9ZM357.4,161.4L355.4,164.1L357.3,163.7L359.3,163.8L358.8,165.7L357.1,167.9L359.0,168.1L359.2,168.4L360.9,171.3L362.2,171.7L363.4,174.5L364.0,175.5L366.3,175.9L366.1,177.5L365.1,178.3L365.9,179.6L364.1,180.9L361.5,180.9L358.1,181.6L357.1,181.1L355.8,182.3L354.0,182.0L352.5,182.9L351.5,182.4L354.5,179.8L356.3,179.2L353.2,178.8L352.6,177.8L354.7,177.0L353.7,175.7L354.1,174.0L357.0,174.3L357.3,172.9L356.1,171.3L353.7,170.8L353.3,170.2L354.0,169.1L353.4,168.4L352.3,169.6L352.3,167.2L351.4,165.9L352.2,163.4L353.7,161.4L355.2,161.6Z"/>
<path d="M351.0,173.1L351.2,174.9L349.7,177.1L346.1,178.6L343.3,178.2L345.1,175.6L344.2,173.1L346.9,171.2L348.5,170.0L348.8,171.3L348.3,172.7L349.5,172.6Z"/>
<path d="M368.0,179.9L368.3,180.8L369.2,180.9L370.2,181.9L371.6,183.1L372.6,182.9L374.4,184.0L374.9,184.3L375.5,184.2L376.4,184.9L379.4,185.3L378.4,187.1L378.2,188.9L377.7,189.3L376.7,189.1L376.8,189.7L375.4,191.2L375.4,192.3L376.3,191.9L377.1,193.1L377.0,193.8L377.7,194.8L377.0,195.5L377.6,197.5L378.7,197.8L378.5,199.0L376.7,200.4L372.5,199.7L369.5,200.6L369.3,202.1L366.9,202.5L364.5,201.3L363.7,201.8L359.9,200.7L359.1,199.7L360.2,198.1L360.6,193.0L358.5,190.3L357.0,189.0L353.9,188.0L353.8,186.2L356.4,185.6L359.8,186.3L359.2,183.4L361.0,184.5L365.7,182.5L366.3,180.4ZM381.4,201.7L382.7,200.7L383.1,203.0L382.5,205.0L381.5,204.4L381.0,202.7Z"/>
<path d="M344.0,203.7L344.2,201.8L343.4,200.7L346.4,198.8L349.0,199.3L351.8,199.3L354.0,199.7L355.7,199.6L359.1,199.7L359.9,200.7L363.7,201.8L364.5,201.3L366.9,202.5L369.3,202.1L369.4,203.6L367.4,205.3L364.7,205.9L364.6,206.8L363.3,208.2L362.4,210.3L363.3,211.8L362.0,213.0L361.6,214.7L359.9,215.2L358.4,217.2L353.6,217.2L352.2,218.1L351.4,219.1L350.3,218.9L349.5,218.0L349.0,216.5L347.0,216.1L346.8,215.2L347.6,214.3L347.9,213.5L347.2,212.8L347.9,211.1L347.1,209.5L348.0,209.3L348.1,208.1L348.5,207.7L348.6,205.7L349.5,205.0L349.0,203.7L347.8,203.6L347.4,203.9L346.2,203.9L345.7,202.6L344.8,203.0Z"/>
<path d="M344.0,203.7L344.8,203.0L345.7,202.6L346.2,203.9L347.4,203.9L347.8,203.6L349.0,203.7L349.5,205.0L348.6,205.7L348.5,207.7L348.1,208.1L348.0,209.3L347.1,209.5L347.9,211.1L347.2,212.8L347.9,213.5L347.6,214.3L346.8,215.2L347.0,216.1L346.1,216.8L345.0,216.4L343.8,216.7L344.2,214.7L344.1,213.0L343.1,212.8L342.7,211.8L342.9,210.1L343.8,209.2L344.0,208.1L344.5,206.6L344.5,205.5L344.1,204.5Z"/>
<path d="M369.6,179.4L371.1,179.6L372.9,179.1L374.2,180.2L375.3,180.8L375.1,182.5L374.6,182.6L374.4,184.0L372.6,182.9L371.6,183.1L370.2,181.9L369.2,180.9L368.3,180.8L368.0,179.9Z"/>
<path d="M374.9,174.0L376.5,174.1L376.9,174.9L376.5,177.2L376.0,178.2L374.9,178.2L375.3,180.8L374.2,180.2L372.9,179.1L371.1,179.6L369.6,179.4L370.6,178.8L372.2,175.1Z"/>
<path d="M374.4,184.0L374.6,182.6L375.1,182.5L375.5,183.1L375.5,184.2L374.9,184.3Z"/>
<path d="M382.1,170.4L382.2,171.3L384.2,171.9L384.3,172.8L386.2,172.3L387.2,171.6L389.5,172.6L390.5,173.4L391.1,174.7L390.6,175.3L391.4,176.2L392.0,177.6L391.9,178.4L392.9,180.0L392.0,180.3L391.4,180.0L391.0,180.5L389.6,181.0L388.9,181.6L387.5,182.2L387.9,182.9L388.2,184.0L389.2,184.6L390.5,185.7L389.8,186.8L389.1,187.2L389.5,188.8L389.3,189.3L388.7,188.8L387.7,188.7L386.3,189.1L384.5,189.0L384.2,189.7L383.2,189.0L382.5,189.1L380.3,188.4L380.0,188.9L378.2,188.9L378.4,187.1L379.4,185.3L376.4,184.9L375.5,184.2L375.5,183.1L375.1,182.5L375.3,180.8L374.9,178.2L376.0,178.2L376.5,177.2L376.9,174.9L376.5,174.1L376.8,173.6L378.5,173.4L378.9,174.0L380.1,172.8L379.6,171.8L379.5,170.4L380.9,170.7Z"/>
<path d="M382.5,189.1L382.6,189.6L382.4,190.2L383.3,190.7L384.4,190.8L384.2,191.8L383.4,192.2L381.8,191.9L381.5,192.9L380.5,193.0L380.1,192.6L379.0,193.5L378.0,193.6L377.1,193.1L376.3,191.9L375.4,192.3L375.4,191.2L376.8,189.7L376.7,189.1L377.7,189.3L378.2,188.9L380.0,188.9L380.3,188.4Z"/>
<path d="M397.4,187.6L397.4,188.7L396.2,188.7L396.7,189.2L396.1,190.9L395.8,191.3L394.0,191.3L393.0,191.9L391.3,191.7L388.3,191.1L387.8,190.2L385.8,190.6L385.6,191.1L384.4,190.8L383.3,190.7L382.4,190.2L382.6,189.6L382.5,189.1L383.2,189.0L384.2,189.7L384.5,189.0L386.3,189.1L387.7,188.7L388.7,188.8L389.3,189.3L389.5,188.8L389.1,187.2L389.8,186.8L390.5,185.7L392.0,186.5L393.1,185.5L393.8,185.3L395.4,186.1L396.3,185.9L397.3,186.4L397.2,186.7Z"/>
<path d="M396.3,213.1L395.6,215.2L396.0,216.0L395.6,217.3L393.9,216.4L392.8,216.1L389.8,214.8L390.0,213.4L392.5,213.7L394.7,213.4ZM382.5,205.4L383.8,207.2L383.7,210.7L382.7,210.5L381.9,211.4L381.0,210.7L380.8,207.5L380.3,206.1L381.5,206.2ZM388.3,191.1L391.3,191.7L391.2,193.0L391.7,194.1L390.1,193.7L388.5,194.6L388.6,195.9L388.4,196.6L389.2,197.9L391.2,199.2L392.4,201.4L394.9,203.5L396.5,203.5L397.1,204.0L396.5,204.5L398.5,205.5L400.1,206.3L402.0,207.6L402.3,208.1L401.9,209.0L400.7,207.8L398.8,207.4L398.0,209.1L399.6,210.0L399.5,211.4L398.6,211.6L397.6,213.8L396.7,214.0L396.7,213.2L397.0,211.8L397.4,211.2L396.5,209.7L395.8,208.4L394.9,208.1L394.2,207.0L392.8,206.5L391.8,205.4L390.2,205.3L388.5,204.1L386.5,202.4L385.0,200.9L384.2,198.4L383.2,198.1L381.5,197.2L380.5,197.6L379.4,198.8L378.5,199.0L378.7,197.8L377.6,197.5L377.0,195.5L377.7,194.8L377.0,193.8L377.1,193.1L378.0,193.6L379.0,193.5L380.1,192.6L380.5,193.0L381.5,192.9L381.8,191.9L383.4,192.2L384.2,191.8L384.4,190.8L385.6,191.1L385.8,190.6L387.8,190.2Z"/>
<path d="M392.9,180.0L391.9,178.4L392.0,177.6L391.4,176.2L390.6,175.3L391.1,174.7L390.5,173.4L391.8,172.7L394.7,171.5L397.0,170.7L399.0,171.1L399.2,171.7L401.1,171.7L403.5,172.0L407.0,172.0L408.1,172.3L408.6,173.0L408.9,174.1L409.6,175.1L409.7,176.1L408.6,176.6L409.4,177.7L409.6,178.9L410.9,181.0L410.8,181.8L409.8,182.1L408.3,184.2L408.9,185.3L408.5,185.1L406.4,184.2L405.0,184.5L404.1,184.3L402.9,184.8L401.8,183.9L401.0,184.3L400.9,184.1L399.8,182.9L398.3,182.7L398.1,181.9L396.7,181.6L396.4,182.3L395.3,181.8L395.4,181.1L393.9,180.9Z"/>
<path d="M392.9,180.0L393.9,180.9L395.4,181.1L395.3,181.8L396.4,182.3L396.7,181.6L398.1,181.9L398.3,182.7L399.8,182.9L400.9,184.1L400.3,184.1L400.0,184.6L399.6,184.7L399.5,185.3L399.1,185.4L399.1,185.6L398.4,185.9L397.5,185.8L397.3,186.4L396.3,185.9L395.4,186.1L393.8,185.3L393.1,185.5L392.0,186.5L390.5,185.7L389.2,184.6L388.2,184.0L387.9,182.9L387.5,182.2L388.9,181.6L389.6,181.0L391.0,180.5L391.4,180.0L392.0,180.3Z"/>
<path d="M408.5,185.1L408.0,185.8L407.7,186.8L407.3,187.1L405.1,186.3L404.4,186.5L404.0,187.1L403.1,187.4L402.8,187.2L401.9,187.6L401.1,187.7L401.0,188.2L399.3,188.5L398.5,188.2L397.4,187.6L397.2,186.7L397.3,186.4L397.5,185.8L398.4,185.9L399.1,185.6L399.1,185.4L399.5,185.3L399.6,184.7L400.0,184.6L400.3,184.1L400.9,184.1L401.0,184.3L401.8,183.9L402.9,184.8L404.1,184.3L405.0,184.5L406.4,184.2Z"/>
<path d="M407.7,186.8L408.9,187.5L409.1,188.2L408.0,188.8L407.2,190.5L406.1,192.2L404.5,192.7L403.3,192.6L401.7,193.3L401.0,193.6L399.3,193.2L397.6,192.1L396.9,191.8L396.5,190.9L396.1,190.9L396.7,189.2L396.2,188.7L397.4,188.7L397.4,187.6L398.5,188.2L399.3,188.5L401.0,188.2L401.1,187.7L401.9,187.6L402.8,187.2L403.1,187.4L404.0,187.1L404.4,186.5L405.1,186.3L407.3,187.1Z"/>
<path d="M391.3,191.7L393.0,191.9L394.0,191.3L395.8,191.3L396.1,190.9L396.5,190.9L396.9,191.8L395.4,192.4L395.3,193.5L394.6,193.7L394.6,194.4L393.8,194.4L393.1,194.0L392.7,194.4L391.3,194.3L391.7,194.1L391.2,193.0Z"/>
<path d="M401.7,193.3L402.3,194.3L403.0,195.0L402.4,196.0L401.3,195.4L399.9,195.4L398.1,195.0L397.1,195.1L396.8,195.6L396.0,195.0L395.6,196.1L396.7,197.3L397.2,198.1L398.3,199.0L399.1,199.6L400.0,200.7L401.9,201.7L401.7,202.1L399.7,201.1L398.4,200.2L396.4,199.4L394.5,197.6L394.9,197.4L393.9,196.3L393.8,195.4L392.5,195.0L391.9,196.1L391.2,195.2L391.2,194.4L391.3,194.3L392.7,194.4L393.1,194.0L393.8,194.4L394.6,194.4L394.6,193.7L395.3,193.5L395.4,192.4L396.9,191.8L397.6,192.1L399.3,193.2L401.0,193.6Z"/>
<path d="M402.4,196.0L403.1,196.0L402.7,197.1L403.8,198.1L403.6,199.3L403.1,199.4L402.7,199.6L402.1,200.2L401.9,201.7L400.0,200.7L399.1,199.6L398.3,199.0L397.2,198.1L396.7,197.3L395.6,196.1L396.0,195.0L396.8,195.6L397.1,195.1L398.1,195.0L399.9,195.4L401.3,195.4Z"/>
<path d="M406.4,203.7L406.1,202.8L405.6,202.5L405.1,201.8L405.4,201.2L405.9,201.1L406.1,200.2L406.5,200.1L406.8,200.4L407.2,200.6L407.5,201.0L407.9,201.1L408.3,201.6L408.7,201.6L408.5,202.2L408.2,202.5L408.3,202.7L407.9,202.8L406.7,203.2L406.6,203.7Z"/>
<path d="M405.1,201.8L404.6,202.1L404.4,201.6L403.6,202.8L403.8,203.7L403.3,203.5L402.7,202.6L401.7,202.1L401.9,201.7L402.1,200.2L402.7,199.6L403.1,199.4L403.7,199.9L404.0,200.2L404.7,200.5L405.6,201.0L405.4,201.2Z"/>
<path d="M407.5,206.4L407.5,207.0L406.9,207.4L406.8,208.3L405.9,209.5L405.6,209.3L405.5,208.7L404.2,207.9L403.9,206.6L404.0,204.9L404.2,204.1L403.8,203.7L403.6,202.8L404.4,201.6L404.6,202.1L405.1,201.8L405.6,202.5L406.1,202.8L406.4,203.7L406.2,204.6L406.6,205.7Z"/>
<path d="M410.0,202.5L411.1,203.3L411.5,205.1L411.1,205.2L410.8,205.6L409.6,205.6L408.9,206.1L407.5,206.4L406.6,205.7L406.2,204.6L406.4,203.7L406.6,203.7L406.7,203.2L407.9,202.8L408.3,202.7L409.0,202.6Z"/>
<path d="M414.4,219.7L415.7,220.6L417.4,220.5L419.0,220.7L419.0,221.1L420.1,220.8L419.9,221.6L416.8,221.8L416.8,221.4L414.1,220.8ZM419.1,204.5L418.6,206.1L418.2,206.4L416.9,206.3L415.8,206.1L413.2,206.7L414.9,208.2L413.8,208.6L412.6,208.6L411.4,207.3L411.1,207.9L411.7,209.4L412.9,210.6L412.1,211.2L413.4,212.4L414.5,213.2L414.7,214.6L412.7,214.0L413.4,215.3L412.0,215.5L413.1,217.9L411.6,217.9L409.8,216.8L408.8,214.7L408.3,212.9L407.4,211.7L406.1,210.3L405.9,209.5L406.8,208.3L406.9,207.4L407.5,207.0L407.5,206.4L408.9,206.1L409.6,205.6L410.8,205.6L411.1,205.2L411.5,205.1L413.0,205.1L414.6,204.4L416.2,205.3L418.1,205.1L418.0,203.8Z"/>
<path d="M410.1,197.6L410.8,198.6L411.6,198.4L413.2,198.8L416.3,199.0L417.2,198.3L419.6,197.7L421.2,198.7L422.5,198.9L421.6,200.0L421.0,201.8L421.9,203.3L420.1,203.0L418.0,203.8L418.1,205.1L416.2,205.3L414.6,204.4L413.0,205.1L411.5,205.1L411.1,203.3L410.0,202.5L410.3,202.2L410.1,201.8L410.3,201.0L411.0,200.2L409.9,199.1L409.6,198.2Z"/>
<path d="M417.0,187.4L417.4,187.0L418.7,186.7L420.3,187.5L421.1,187.6L422.2,188.3L422.1,189.2L423.0,189.6L423.4,190.7L424.2,191.3L424.1,191.7L424.5,192.0L424.0,192.1L422.8,192.1L422.6,191.7L422.2,191.9L422.4,192.4L421.9,193.2L421.7,194.1L421.2,194.3L420.7,193.2L420.7,192.1L420.5,191.0L419.1,189.4L418.3,188.4L417.6,187.6Z"/>
<path d="M425.7,177.5L426.4,177.6L426.8,177.1L427.4,177.2L429.4,176.9L431.0,178.4L430.6,178.9L430.9,179.7L432.5,179.8L433.5,180.9L433.5,181.4L436.2,182.3L437.7,181.9L439.1,183.0L440.3,183.0L443.5,183.8L443.6,184.6L443.1,185.9L443.9,187.3L443.7,188.2L441.8,188.4L440.9,189.1L441.0,190.2L439.4,190.4L438.2,191.2L436.3,191.4L434.7,192.3L435.1,193.9L436.2,194.5L438.3,194.4L438.1,195.3L435.9,195.8L433.3,197.2L432.1,196.7L432.4,195.5L430.0,194.8L430.3,194.3L432.1,193.4L431.4,192.8L428.1,192.2L427.8,191.2L426.0,191.5L425.4,193.0L424.1,194.9L423.1,194.4L422.2,194.8L421.2,194.3L421.7,194.1L421.9,193.2L422.4,192.4L422.2,191.9L422.6,191.7L422.8,192.1L424.0,192.1L424.5,192.0L424.1,191.7L424.2,191.3L423.4,190.7L423.0,189.6L422.1,189.2L422.2,188.3L421.1,187.6L420.3,187.5L418.7,186.7L417.4,187.0L417.0,187.4L416.1,187.4L415.7,187.9L414.2,188.2L413.6,188.6L412.5,188.0L411.2,187.9L409.9,187.7L409.1,188.2L408.9,187.5L407.7,186.8L408.0,185.8L408.5,185.1L408.9,185.3L408.3,184.2L409.8,182.1L410.8,181.8L410.9,181.0L409.6,178.9L410.5,178.8L411.5,178.1L413.0,178.0L415.0,178.2L417.3,178.8L418.9,178.9L419.7,179.2L420.4,178.8L421.0,179.4L422.8,179.3L423.6,179.5L423.5,178.2L424.0,177.7Z"/>
<path d="M408.6,173.0L410.5,173.0L412.5,172.1L412.7,170.7L414.2,169.9L413.8,168.8L414.9,168.4L416.8,167.4L418.9,168.1L419.3,168.7L420.2,168.4L422.2,169.0L422.6,170.1L422.4,170.8L423.9,172.4L424.8,172.9L424.7,173.3L426.1,173.7L426.8,174.4L426.2,175.0L424.6,174.9L424.3,175.1L424.9,175.9L425.7,177.5L424.0,177.7L423.5,178.2L423.6,179.5L422.8,179.3L421.0,179.4L420.4,178.8L419.7,179.2L418.9,178.9L417.3,178.8L415.0,178.2L413.0,178.0L411.5,178.1L410.5,178.8L409.6,178.9L409.4,177.7L408.6,176.6L409.7,176.1L409.6,175.1L408.9,174.1Z"/>
<path d="M407.0,172.0L406.8,171.4L406.9,170.7L406.0,170.3L403.9,169.9L403.2,167.8L405.3,167.0L408.5,167.2L410.3,167.0L410.7,167.5L411.7,167.6L413.8,168.8L414.2,169.9L412.7,170.7L412.5,172.1L410.5,173.0L408.6,173.0L408.1,172.3Z"/>
<path d="M403.2,167.8L403.0,165.9L403.7,164.4L405.4,163.6L407.2,165.4L408.7,165.3L408.7,163.5L410.2,163.0L411.1,163.3L412.9,164.2L414.5,164.3L415.5,164.8L415.9,166.0L416.8,167.4L414.9,168.4L413.8,168.8L411.7,167.6L410.7,167.5L410.3,167.0L408.5,167.2L405.3,167.0Z"/>
<path d="M408.7,163.5L408.7,162.1L408.1,162.3L406.7,161.5L406.3,160.1L408.6,159.4L410.8,159.1L412.9,159.5L414.8,159.4L415.2,159.8L414.1,161.2L415.1,163.5L414.5,164.3L412.9,164.2L411.1,163.3L410.2,163.0Z"/>
<path d="M434.1,221.2L434.3,221.2L434.5,220.6L436.1,220.6L438.0,219.8L436.7,220.9L436.9,221.4L437.0,221.6L434.9,222.7L433.7,222.4L433.1,221.3Z"/>
<path d="M343.7,240.8L343.6,245.4L336.2,245.3L336.1,252.0L334.0,252.2L333.5,253.6L333.8,257.3L325.0,257.3L324.5,258.2L324.6,257.1L324.7,255.9L325.6,255.2L326.4,253.8L326.2,252.9L327.1,251.1L328.4,249.4L329.1,249.0L329.8,247.5L329.9,246.1L330.7,244.5L332.3,243.5L333.7,240.8Z"/>
<path d="M343.8,237.7L347.4,235.8L349.6,235.4L351.4,234.7L352.3,233.3L354.9,232.3L355.0,230.4L356.3,230.2L357.3,229.2L360.2,228.7L360.6,227.7L360.0,227.2L359.3,224.4L359.1,222.8L358.3,221.1L360.4,219.7L362.7,219.3L364.1,218.2L366.2,217.4L369.8,216.9L373.4,216.7L374.5,217.1L376.5,216.1L378.8,216.0L379.7,216.6L381.2,216.5L380.8,217.8L381.2,220.3L380.8,222.5L379.4,223.9L379.7,225.9L381.5,227.5L381.6,228.1L382.9,229.2L384.0,233.8L384.8,236.2L384.9,237.4L384.6,239.5L384.8,240.7L384.5,242.1L384.8,243.8L383.9,244.9L385.2,246.8L385.4,247.9L386.2,249.4L387.2,248.9L389.0,250.1L390.0,251.7L382.4,256.7L375.9,261.9L372.7,263.0L370.2,263.3L370.2,261.6L369.1,261.2L367.7,260.5L367.1,259.2L359.5,253.5L352.0,247.8L343.7,241.5L343.7,240.8Z"/>
<path d="M384.0,233.8L382.9,229.2L381.6,228.1L381.5,227.5L379.7,225.9L379.4,223.9L380.8,222.5L381.2,220.3L380.8,217.8L381.2,216.5L383.5,215.4L385.0,215.8L385.0,217.1L386.8,216.1L387.0,216.6L385.9,217.9L386.0,219.1L386.7,219.7L386.5,222.0L385.2,223.3L385.6,224.7L386.8,224.8L387.3,226.0L388.2,226.4L388.1,228.5L387.1,229.2L386.4,230.1L385.0,231.0L385.2,232.1L385.1,233.2Z"/>
<path d="M419.5,255.6L419.7,260.8L417.1,260.8L417.1,261.9L407.9,256.9L398.7,251.9L396.5,253.3L394.9,254.3L393.6,252.9L390.0,251.7L389.0,250.1L387.2,248.9L386.2,249.4L385.4,247.9L385.2,246.8L383.9,244.9L384.8,243.8L384.5,242.1L384.8,240.7L384.6,239.5L384.9,237.4L384.8,236.2L384.0,233.8L385.1,233.2L385.2,232.1L385.0,231.0L386.4,230.1L387.1,229.2L388.1,228.5L388.2,226.4L390.8,227.4L391.7,227.1L393.6,227.6L396.5,228.7L397.7,231.0L399.7,231.6L402.8,232.7L405.3,234.0L406.3,233.3L407.3,232.1L406.7,230.1L407.3,228.8L408.8,227.6L410.3,227.2L413.3,227.7L414.1,228.9L414.9,228.9L415.6,229.4L417.8,229.7L418.4,230.5L417.7,231.8L418.2,232.9L417.7,234.6L418.5,236.6L419.0,246.0Z"/>
<path d="M446.3,255.6L447.1,258.2L446.6,258.6L447.1,261.3L448.1,264.5L449.0,265.1L450.3,266.1L449.2,267.5L447.6,268.0L446.9,268.8L446.8,270.5L446.0,274.4L446.3,275.4L446.0,277.7L445.1,280.2L443.8,281.5L442.9,283.5L442.7,284.6L441.6,285.3L441.0,288.1L441.0,288.4L440.7,288.3L440.7,287.0L440.4,286.1L439.2,285.1L438.9,283.2L439.1,281.3L438.0,281.1L437.9,281.7L436.5,281.8L437.1,282.6L437.3,284.2L436.1,285.6L435.0,287.5L433.8,287.7L431.9,286.2L431.0,286.8L430.8,287.5L429.6,288.0L429.6,288.6L427.3,288.6L426.9,288.0L425.3,287.9L424.5,288.4L423.8,288.2L422.6,286.6L422.2,285.9L420.6,286.3L419.9,287.5L419.4,289.8L418.6,290.3L417.9,290.6L417.7,290.5L416.9,289.7L416.8,288.9L417.1,287.8L417.1,286.8L415.7,285.1L415.5,284.0L415.5,283.4L414.6,282.6L414.6,281.1L414.1,280.1L413.3,280.2L413.5,279.2L414.0,278.2L413.7,277.1L414.5,276.3L414.0,275.7L414.6,274.1L415.5,272.1L417.5,272.3L417.1,261.9L417.1,260.8L419.7,260.8L419.5,255.6L428.5,255.6L437.3,255.6Z"/>
<path d="M434.1,304.0L432.0,302.2L431.5,301.1L430.2,301.7L429.1,301.5L428.5,301.9L427.5,301.6L426.1,299.5L425.7,298.6L424.0,297.6L423.3,296.0L422.4,294.9L420.8,293.5L420.8,292.7L419.5,291.6L417.9,290.6L418.6,290.3L419.4,289.8L419.9,287.5L420.6,286.3L422.2,285.9L422.6,286.6L423.8,288.2L424.5,288.4L425.3,287.9L426.9,288.0L427.3,288.6L429.6,288.6L429.6,288.0L430.8,287.5L431.0,286.8L431.9,286.2L433.8,287.7L435.0,287.5L436.1,285.6L437.3,284.2L437.1,282.6L436.5,281.8L437.9,281.7L438.0,281.1L439.1,281.3L438.9,283.2L439.2,285.1L440.4,286.1L440.7,287.0L440.7,288.3L441.0,288.4L441.1,290.4L440.8,291.2L439.5,291.3L438.8,292.8L440.2,293.0L441.4,294.2L441.8,295.3L442.9,295.9L444.3,298.7L442.8,300.5L441.4,302.0L440.0,303.2L438.4,303.2L436.5,303.8L435.0,303.3Z"/>
<path d="M335.2,274.9L333.8,273.1L332.4,271.2L330.9,270.5L329.8,269.7L328.5,269.7L327.4,270.3L326.3,270.1L325.5,270.9L325.3,269.5L326.0,268.2L326.3,265.8L326.1,263.2L325.9,261.9L326.2,260.6L325.6,259.3L324.5,258.2L325.0,257.3L333.8,257.3L333.5,253.6L334.0,252.2L336.1,252.0L336.2,245.3L343.6,245.4L343.7,241.5L352.0,247.8L348.6,247.8L349.5,259.1L350.5,270.4L350.9,270.8L350.4,272.6L341.2,272.6L340.9,273.2L340.0,273.0L338.7,273.6L337.1,272.8L336.4,272.9L336.0,274.4Z"/>
<path d="M335.2,274.9L336.0,274.4L336.4,272.9L337.1,272.8L338.7,273.6L340.0,273.0L340.9,273.2L341.2,272.6L350.4,272.6L350.9,270.8L350.5,270.4L349.5,259.1L348.6,247.8L352.0,247.8L359.5,253.5L367.1,259.2L367.7,260.5L369.1,261.2L370.2,261.6L370.2,263.3L372.7,263.0L372.8,269.1L371.5,270.8L371.3,272.4L369.3,272.8L366.2,273.1L365.4,274.0L363.9,274.1L362.4,274.1L361.8,273.6L360.6,274.0L358.5,275.1L358.0,275.9L356.2,277.0L355.9,277.7L355.0,278.2L353.9,277.9L353.2,278.5L352.9,280.3L351.1,282.5L351.1,283.4L350.5,284.5L350.6,286.0L349.7,286.4L349.1,286.7L348.8,285.6L348.1,285.9L347.7,285.9L347.3,286.6L345.5,286.6L344.9,286.2L344.6,286.4L343.9,285.7L344.0,284.9L343.7,284.6L343.3,284.9L343.4,284.0L343.8,283.3L342.9,282.3L342.6,281.5L342.1,280.9L341.7,280.9L341.1,281.3L340.4,281.6L339.7,282.2L338.8,282.0L338.1,281.3L337.7,281.2L337.1,281.5L336.8,281.5L336.7,280.6L336.8,279.8L336.6,278.8L335.7,278.0L335.3,276.5Z"/>
<path d="M324.5,278.7L324.8,277.6L327.3,277.5L327.8,276.9L328.6,276.8L329.4,277.5L330.1,277.5L330.9,277.1L331.4,277.8L330.4,278.4L329.4,278.4L328.4,277.8L327.5,278.4L327.1,278.4L326.6,278.8Z"/>
<path d="M328.3,284.3L327.1,283.2L326.1,283.0L325.7,282.3L325.7,281.9L325.0,281.3L324.8,280.8L326.0,280.3L326.8,280.4L327.4,280.1L331.7,280.2L331.6,281.1L331.3,281.4L331.5,282.3L331.2,282.6L330.7,282.6L330.1,283.0L329.4,283.0Z"/>
<path d="M343.6,293.0L343.0,293.0L342.5,294.0L341.8,294.0L341.4,293.4L341.6,292.4L340.6,290.8L340.0,291.1L339.5,291.1L338.9,291.3L338.9,290.3L338.6,289.7L338.6,288.9L338.1,287.8L337.5,286.9L335.7,286.9L335.1,287.4L334.5,287.4L334.1,288.0L333.8,288.7L332.6,289.9L331.6,288.3L330.7,287.3L330.1,286.9L329.6,286.4L329.3,285.3L329.0,284.7L328.3,284.3L329.4,283.0L330.1,283.0L330.7,282.6L331.2,282.6L331.5,282.3L331.3,281.4L331.6,281.1L331.7,280.2L332.8,280.2L334.4,280.9L334.9,280.8L335.1,280.5L336.3,280.7L336.7,280.6L336.8,281.5L337.1,281.5L337.7,281.2L338.1,281.3L338.8,282.0L339.7,282.2L340.4,281.6L341.1,281.3L341.7,280.9L342.1,280.9L342.6,281.5L342.9,282.3L343.8,283.3L343.4,284.0L343.3,284.9L343.7,284.6L344.0,284.9L343.9,285.7L344.6,286.4L344.1,286.6L344.0,287.5L344.5,288.6L345.0,290.7L344.2,291.0L344.0,291.4L344.1,291.9L344.0,293.0Z"/>
<path d="M336.7,295.4L336.1,295.2L334.4,294.2L333.3,292.7L332.9,291.8L332.6,289.9L333.8,288.7L334.1,288.0L334.5,287.4L335.1,287.4L335.7,286.9L337.5,286.9L338.1,287.8L338.6,288.9L338.6,289.7L338.9,290.3L338.9,291.3L339.5,291.1L338.4,292.4L337.4,293.8L337.3,294.5Z"/>
<path d="M345.3,301.7L344.7,301.7L342.3,300.5L340.2,298.5L338.2,297.1L336.7,295.4L337.3,294.5L337.4,293.8L338.4,292.4L339.5,291.1L340.0,291.1L340.6,290.8L341.6,292.4L341.4,293.4L341.8,294.0L342.5,294.0L343.0,293.0L343.6,293.0L343.5,293.8L343.7,295.1L343.2,296.2L343.9,297.0L344.6,297.1L345.6,298.2L345.7,299.3L345.4,299.6Z"/>
<path d="M356.4,300.1L355.4,300.1L353.8,299.6L352.3,299.6L349.6,300.1L348.0,300.8L345.7,301.8L345.3,301.7L345.4,299.6L345.7,299.3L345.6,298.2L344.6,297.1L343.9,297.0L343.2,296.2L343.7,295.1L343.5,293.8L343.6,293.0L344.0,293.0L344.1,291.9L344.0,291.4L344.2,291.0L345.0,290.7L344.5,288.6L344.0,287.5L344.1,286.6L344.6,286.4L344.9,286.2L345.5,286.6L347.3,286.6L347.7,285.9L348.1,285.9L348.8,285.6L349.1,286.7L349.7,286.4L350.6,286.0L351.7,286.6L352.1,287.5L353.1,288.0L353.9,287.4L355.0,287.2L356.5,287.9L357.1,291.6L356.2,293.8L355.6,296.8L356.6,299.0Z"/>
<path d="M356.5,287.9L355.0,287.2L353.9,287.4L353.1,288.0L352.1,287.5L351.7,286.6L350.6,286.0L350.5,284.5L351.1,283.4L351.1,282.5L352.9,280.3L353.2,278.5L353.9,277.9L355.0,278.2L355.9,277.7L356.2,277.0L358.0,275.9L358.5,275.1L360.6,274.0L361.8,273.6L362.4,274.1L363.9,274.1L363.7,275.4L364.0,276.5L365.3,278.2L365.4,279.5L368.0,280.1L368.0,281.9L367.5,282.7L366.4,282.9L365.9,284.1L365.1,284.4L363.1,284.3L362.0,284.1L361.3,284.5L360.3,284.3L356.3,284.5L356.2,285.9Z"/>
<path d="M365.5,297.6L361.9,299.2L360.6,300.1L358.5,300.8L356.4,300.1L356.6,299.0L355.6,296.8L356.2,293.8L357.1,291.6L356.5,287.9L356.2,285.9L356.3,284.5L360.3,284.3L361.3,284.5L362.0,284.1L363.1,284.3L362.9,285.1L363.9,286.5L363.9,288.4L364.1,290.4L364.7,291.4L364.2,293.8L364.3,295.1L365.0,296.7Z"/>
<path d="M367.3,297.1L365.5,297.6L365.0,296.7L364.3,295.1L364.2,293.8L364.7,291.4L364.1,290.4L363.9,288.4L363.9,286.5L362.9,285.1L363.1,284.3L365.1,284.4L364.8,285.8L365.5,286.5L366.3,287.4L366.4,288.7L366.8,289.3L366.8,295.3Z"/>
<path d="M368.0,281.9L368.0,280.1L365.4,279.5L365.3,278.2L364.0,276.5L363.7,275.4L363.9,274.1L365.4,274.0L366.2,273.1L369.3,272.8L371.3,272.4L371.5,270.8L372.8,269.1L372.7,263.0L375.9,261.9L382.4,256.7L390.0,251.7L393.6,252.9L394.9,254.3L396.5,253.3L397.2,257.4L398.0,258.1L398.1,258.9L399.0,259.8L398.6,260.9L397.8,266.2L397.8,269.6L394.9,272.1L394.0,275.6L394.9,276.5L394.9,278.2L396.4,278.3L396.2,279.5L395.6,279.7L395.5,280.5L395.1,280.5L393.5,277.7L392.9,277.6L391.2,279.0L389.4,278.3L388.2,278.1L387.5,278.5L386.2,278.4L384.8,279.5L383.7,279.6L380.9,278.2L379.8,278.9L378.6,278.8L377.8,277.9L375.5,276.9L373.0,277.2L372.4,277.8L372.1,279.2L371.5,280.3L371.3,282.6L369.6,281.1L368.7,281.2Z"/>
<path d="M396.2,279.5L396.4,278.3L394.9,278.2L394.9,276.5L394.0,275.6L394.9,272.1L397.8,269.6L397.8,266.2L398.6,260.9L399.0,259.8L398.1,258.9L398.0,258.1L397.2,257.4L396.5,253.3L398.7,251.9L407.9,256.9L417.1,261.9L417.5,272.3L415.5,272.1L414.6,274.1L414.0,275.7L414.5,276.3L413.7,277.1L414.0,278.2L413.5,279.2L413.3,280.2L414.1,280.1L414.6,281.1L414.6,282.6L415.5,283.4L415.5,284.0L414.0,284.4L412.9,285.5L411.3,288.3L409.1,289.6L406.9,289.4L406.2,289.7L406.5,290.6L405.3,291.5L404.3,292.5L401.5,293.5L400.9,292.9L400.5,292.9L400.1,293.5L398.2,293.7L398.5,293.0L397.8,291.2L397.4,290.1L396.4,289.7L395.1,288.2L395.6,286.9L396.6,287.2L397.3,287.0L398.5,287.0L397.3,284.7L397.3,282.9L397.1,281.2Z"/>
<path d="M398.2,293.7L400.1,293.5L400.5,292.9L400.9,292.9L401.5,293.5L404.3,292.5L405.3,291.5L406.5,290.6L406.2,289.7L406.9,289.4L409.1,289.6L411.3,288.3L412.9,285.5L414.0,284.4L415.5,284.0L415.7,285.1L417.1,286.8L417.1,287.8L416.8,288.9L416.9,289.7L417.7,290.5L419.5,291.6L420.8,292.7L420.8,293.5L422.4,294.9L423.3,296.0L424.0,297.6L425.7,298.6L426.1,299.5L425.3,299.7L423.8,299.7L422.1,299.4L421.2,299.6L420.9,300.3L420.2,300.3L419.2,299.8L416.7,301.1L415.6,300.8L415.3,301.0L414.7,302.6L412.9,302.1L411.2,301.8L409.8,300.9L407.9,300.0L406.6,300.8L405.7,302.2L405.5,304.0L404.1,303.8L402.5,303.4L401.1,304.8L399.9,307.2L399.7,306.5L399.6,305.3L398.5,304.4L397.7,303.1L397.5,302.1L396.4,300.8L396.6,300.0L396.3,298.9L396.5,296.8L397.0,296.4Z"/>
<path d="M385.3,307.2L389.0,307.2L389.1,310.4L385.7,310.4L384.9,310.5L384.5,310.1Z"/>
<path d="M389.0,307.2L390.1,307.1L391.5,307.4L392.9,307.1L393.2,307.2L393.0,308.4L393.7,309.7L395.4,309.5L396.0,310.0L394.9,313.0L396.1,314.6L396.3,316.6L396.0,318.4L395.3,319.6L393.3,319.5L392.0,318.3L391.8,319.4L390.3,319.7L389.5,320.4L390.4,322.1L388.6,323.6L386.2,320.9L384.7,318.7L383.3,316.1L383.4,315.2L383.9,314.4L384.5,312.4L384.9,310.5L385.7,310.4L389.1,310.4Z"/>
<path d="M393.0,325.7L392.1,324.8L391.4,325.2L390.5,326.3L388.6,323.6L390.4,322.1L389.5,320.4L390.3,319.7L391.8,319.4L392.0,318.3L393.3,319.5L395.3,319.6L396.0,318.4L396.3,316.6L396.1,314.6L394.9,313.0L396.0,310.0L395.4,309.5L393.7,309.7L393.0,308.4L393.2,307.2L396.1,307.3L398.0,308.0L399.8,308.6L399.9,307.2L401.1,304.8L402.5,303.4L404.1,303.8L405.5,304.0L405.4,305.6L404.7,306.9L404.3,308.6L404.0,310.9L404.1,312.4L403.8,313.3L403.7,314.2L403.4,315.1L401.9,316.4L400.9,317.7L399.8,320.2L399.9,322.4L399.3,323.2L398.0,324.5L396.6,326.2L395.8,325.7L395.6,324.9L394.4,324.9L393.6,325.9Z"/>
<path d="M433.2,316.1L434.1,317.6L433.9,319.1L433.3,319.5L432.0,319.3L431.3,320.8L429.9,320.6L430.2,319.1L430.5,319.0L430.6,317.4L431.2,316.7L431.8,316.9Z"/>
<path d="M433.3,319.5L433.4,320.5L433.9,321.1L433.9,321.9L433.3,322.5L432.4,323.9L431.6,324.8L430.6,324.9L430.5,321.8L429.9,320.6L431.3,320.8L432.0,319.3Z"/>
<path d="M453.3,325.4L450.1,322.8L449.9,321.3L441.6,315.9L441.2,315.6L441.2,312.9L441.9,311.8L443.0,310.1L443.8,308.2L442.8,305.2L442.5,303.8L441.4,302.0L442.8,300.5L444.3,298.7L445.5,299.2L445.5,300.6L446.3,301.5L447.9,301.5L450.9,303.7L451.6,303.8L452.1,303.7L452.6,304.0L454.2,304.2L454.8,303.1L456.9,302.0L457.9,302.9L459.5,302.9L457.5,305.9L457.6,315.4L458.9,317.5L457.3,318.6L456.7,319.7L455.8,319.9L455.5,321.7L454.7,322.8L454.3,324.5Z"/>
<path d="M460.0,280.3L459.2,279.5L458.2,278.0L457.1,277.1L456.5,276.2L454.5,275.2L452.9,275.1L452.3,274.6L451.0,275.2L449.6,274.0L448.9,276.0L446.3,275.4L446.0,274.4L446.8,270.5L446.9,268.8L447.6,268.0L449.2,267.5L450.3,266.1L451.8,269.1L452.6,271.5L453.9,272.8L457.1,275.2L458.4,276.7L459.8,278.2L460.5,279.1L461.7,279.9L461.0,280.5Z"/>
<path d="M461.7,279.9L462.2,280.7L462.2,281.8L460.9,282.4L461.9,283.2L461.1,284.6L460.6,284.1L460.1,284.3L458.8,284.2L458.7,283.4L458.5,282.7L459.2,281.5L460.0,280.3L461.0,280.5Z"/>
<path d="M458.9,317.5L457.6,315.4L457.5,305.9L459.5,302.9L460.1,302.1L461.6,302.0L463.6,300.2L466.6,300.1L472.9,292.2L471.0,292.2L463.4,289.1L462.5,288.2L461.6,286.9L460.7,285.5L461.1,284.6L461.9,283.2L462.7,283.6L463.2,284.7L464.3,285.8L465.4,285.8L467.5,285.2L470.0,284.8L472.0,284.0L473.1,283.9L473.9,283.4L475.2,283.3L476.0,283.2L477.0,282.9L478.2,282.6L479.3,281.7L480.1,281.7L480.2,282.4L480.1,283.9L480.1,285.3L479.7,286.3L479.1,289.1L478.1,292.0L476.8,295.4L474.9,299.2L473.0,302.1L470.3,305.7L468.1,307.8L464.7,310.4L462.5,312.4L460.0,315.6L459.4,316.9Z"/>
<path d="M391.4,329.1L392.4,328.8L393.0,328.8L393.8,328.5L400.6,328.5L401.2,330.5L401.8,332.0L402.3,332.9L403.2,334.3L404.7,334.1L405.5,333.7L406.8,334.1L407.1,333.4L407.7,331.9L409.1,331.8L409.2,331.3L410.4,331.3L410.2,332.2L413.0,332.2L413.0,333.9L413.5,334.9L413.1,336.5L413.3,338.1L414.0,339.0L413.8,342.1L414.4,341.9L415.4,342.0L416.8,341.6L417.9,341.7L418.1,342.6L417.8,343.8L418.2,345.0L417.8,346.0L418.0,346.9L413.2,346.9L412.9,355.2L414.4,357.4L415.8,359.0L411.6,360.1L406.1,359.7L404.6,358.4L395.4,358.5L395.0,358.7L393.7,357.6L392.2,357.5L390.8,357.9L389.7,358.4L389.5,356.8L389.9,354.5L390.7,352.1L390.9,351.0L391.6,348.6L392.2,347.5L393.5,345.8L394.3,344.7L394.5,342.7L394.4,341.2L393.8,340.3L393.2,338.7L392.6,337.1L392.7,336.6L393.5,335.5L392.8,333.0L392.3,331.3L391.2,329.6ZM391.7,328.0L391.1,328.3L390.5,326.3L391.4,325.2L392.1,324.8L393.0,325.7L392.1,326.2L391.7,326.9Z"/>
<path d="M433.7,335.0L434.6,335.6L435.5,336.1L437.0,336.5L438.3,337.3L439.3,338.5L439.9,340.7L439.5,341.4L438.9,343.5L439.3,345.7L438.6,346.6L437.8,349.0L438.9,349.7L432.0,351.9L432.1,353.7L430.4,354.1L429.0,355.1L428.7,356.0L427.9,356.2L425.8,358.4L424.5,360.1L423.7,360.1L423.0,359.9L420.5,359.6L420.1,359.4L420.1,359.1L419.2,358.5L417.7,358.4L415.8,359.0L414.4,357.4L412.9,355.2L413.2,346.9L418.0,346.9L417.8,346.0L418.2,345.0L417.8,343.8L418.1,342.6L417.9,341.7L418.7,341.8L418.8,342.6L419.8,342.6L421.3,342.8L422.0,344.0L423.9,344.3L425.3,343.5L425.8,344.9L427.5,345.3L428.3,346.4L429.2,347.8L431.0,347.8L430.9,345.0L430.2,345.5L428.7,344.5L428.0,344.0L428.4,341.4L428.9,338.3L428.4,337.1L429.1,335.5L429.7,335.2L432.8,334.7Z"/>
<path d="M438.3,337.3L440.5,337.8L441.0,338.5L441.7,339.7L442.3,343.3L441.5,345.3L442.1,348.7L442.9,348.7L443.7,349.5L444.6,351.4L444.6,354.8L443.6,355.3L442.8,357.1L441.4,355.5L441.3,353.7L441.8,352.4L441.7,351.4L440.9,350.7L440.2,351.0L438.9,349.7L437.8,349.0L438.6,346.6L439.3,345.7L438.9,343.5L439.5,341.4L439.9,340.7L439.3,338.5Z"/>
<path d="M442.3,343.3L444.0,343.1L446.7,343.8L447.3,343.5L448.9,343.4L449.8,342.6L451.1,342.7L453.7,341.7L455.6,340.2L455.9,341.3L455.7,343.9L455.9,346.2L455.8,350.3L456.2,351.6L455.4,353.5L454.4,355.3L452.9,356.9L450.7,357.9L448.1,359.2L445.4,362.0L444.5,362.4L442.8,364.3L441.9,364.9L441.6,366.8L442.5,368.7L442.9,370.3L442.9,371.1L443.3,370.9L443.1,373.5L442.6,374.7L443.2,375.2L442.7,376.3L441.7,377.2L439.8,378.1L437.0,379.5L436.0,380.5L436.1,381.6L436.7,381.8L436.4,383.1L434.7,383.1L434.6,381.9L434.3,380.8L434.2,379.8L434.8,376.9L434.3,375.1L433.4,371.4L435.9,368.4L436.6,366.5L437.0,366.3L437.3,364.7L437.0,364.0L437.2,362.0L437.7,360.2L437.8,356.9L436.7,356.0L435.6,355.8L435.2,355.2L434.1,354.6L432.2,354.7L432.1,353.7L432.0,351.9L438.9,349.7L440.2,351.0L440.9,350.7L441.7,351.4L441.8,352.4L441.3,353.7L441.4,355.5L442.8,357.1L443.6,355.3L444.6,354.8L444.6,351.4L443.7,349.5L442.9,348.7L442.1,348.7L441.5,345.3Z"/>
<path d="M433.4,371.4L432.2,371.1L431.4,371.4L430.4,371.0L429.4,370.9L428.1,369.8L426.3,369.4L425.7,367.7L425.8,366.8L424.8,366.5L422.4,363.6L421.7,362.1L421.3,361.7L420.5,359.6L423.0,359.9L423.7,360.1L424.5,360.1L425.8,358.4L427.9,356.2L428.7,356.0L429.0,355.1L430.4,354.1L432.1,353.7L432.2,354.7L434.1,354.6L435.2,355.2L435.6,355.8L436.7,356.0L437.8,356.9L437.7,360.2L437.2,362.0L437.0,364.0L437.3,364.7L437.0,366.3L436.6,366.5L435.9,368.4Z"/>
<path d="M429.4,370.9L426.2,372.9L424.1,374.8L423.2,376.6L422.5,377.6L421.3,377.8L420.8,379.0L420.5,379.8L419.1,380.4L417.3,380.3L416.2,379.6L415.3,379.3L414.2,379.9L413.6,381.1L412.5,381.9L411.3,383.1L409.7,383.3L409.2,382.4L409.5,380.8L408.3,378.4L407.7,378.0L408.0,370.3L410.2,370.2L410.5,360.9L412.2,360.8L415.8,359.9L416.6,361.0L418.1,360.0L418.8,360.0L420.1,359.4L420.5,359.6L421.3,361.7L421.7,362.1L422.4,363.6L424.8,366.5L425.8,366.8L425.7,367.7L426.3,369.4L428.1,369.8Z"/>
<path d="M407.7,378.0L407.3,387.6L405.2,388.9L404.0,389.2L402.7,388.7L401.7,388.4L401.3,387.4L400.5,386.6L399.4,387.9L397.8,385.9L397.0,384.0L396.6,381.5L396.1,379.6L395.4,375.6L395.5,372.4L395.2,371.0L394.4,369.9L393.2,367.8L392.1,364.6L391.6,363.0L389.8,360.4L389.7,358.4L390.8,357.9L392.2,357.5L393.7,357.6L395.0,358.7L395.4,358.5L404.6,358.4L406.1,359.7L411.6,360.1L415.8,359.0L417.7,358.4L419.2,358.5L420.1,359.1L420.1,359.4L418.8,360.0L418.1,360.0L416.6,361.0L415.8,359.9L412.2,360.8L410.5,360.9L410.2,370.2L408.0,370.3Z"/>
<path d="M427.4,388.9L428.1,389.7L427.3,391.0L426.9,391.8L425.6,392.2L425.2,393.1L424.3,393.3L422.8,391.3L424.1,389.7L425.4,388.6L426.5,388.1Z"/>
<path d="M434.7,383.1L434.2,384.3L432.8,384.6L431.6,383.1L431.6,382.2L432.3,381.2L432.6,380.5L433.2,380.3L434.3,380.8L434.6,381.9Z"/>
<path d="M476.5,345.8L477.0,346.9L477.5,348.6L477.7,351.8L478.2,353.0L477.9,354.3L477.5,355.0L476.8,353.5L476.3,354.3L476.6,356.2L476.3,357.3L475.7,357.9L475.4,360.1L474.3,363.2L472.9,366.8L471.1,371.7L470.0,375.4L468.7,378.4L466.8,379.0L464.8,380.1L463.5,379.5L461.9,378.5L461.3,377.1L461.4,374.8L460.7,372.8L460.6,370.9L461.2,369.0L462.2,368.5L462.3,367.6L463.5,365.7L463.8,364.0L463.4,362.8L463.1,361.1L463.0,358.7L463.9,357.2L464.3,355.6L465.5,355.5L466.8,354.9L467.6,354.5L468.6,354.4L470.0,352.9L472.0,351.3L472.8,350.0L472.5,348.9L473.4,349.2L474.8,347.4L474.9,345.8L475.7,344.7Z"/>
<path d="M450.6,204.5L450.7,203.5L449.9,201.7L448.5,200.7L447.3,200.4L446.4,199.6L446.6,199.3L448.4,199.8L451.6,200.2L454.7,201.4L455.1,201.9L456.3,201.5L458.4,202.1L459.3,203.1L460.7,203.7L460.2,204.1L461.5,205.5L461.3,205.8L460.1,205.6L458.4,204.9L458.0,205.3L455.1,205.7L452.9,204.4Z"/>
<path d="M455.1,205.7L458.0,205.3L458.6,206.0L459.5,206.4L459.2,207.1L460.5,208.0L460.0,208.8L461.0,209.5L462.1,209.9L462.5,211.7L461.7,211.8L460.6,210.3L460.5,209.9L459.6,209.9L458.8,209.2L458.4,209.3L457.4,208.5L455.7,207.9L455.7,206.6Z"/>
<path d="M460.7,203.7L461.3,203.8L463.1,205.4L464.1,205.6L464.3,204.9L465.3,203.8L466.7,205.2L468.2,207.1L469.2,207.2L470.0,207.9L468.3,208.1L468.3,210.1L468.1,211.0L467.5,211.6L467.8,212.9L467.3,213.0L465.7,211.7L466.2,210.4L465.4,209.6L464.6,209.8L462.5,211.7L462.1,209.9L461.0,209.5L460.0,208.8L460.5,208.0L459.2,207.1L459.5,206.4L458.6,206.0L458.0,205.3L458.4,204.9L460.1,205.6L461.3,205.8L461.5,205.5L460.2,204.1ZM458.4,209.3L458.8,209.2L459.6,209.9L460.5,209.9L460.6,210.3L461.7,211.8L460.2,211.5L458.9,210.3Z"/>
<path d="M447.9,225.8L443.9,228.6L441.4,227.6L441.3,227.5L441.6,227.1L441.4,226.1L441.8,224.7L442.9,223.7L442.4,222.6L441.4,222.5L441.0,220.5L441.4,219.4L441.9,218.9L442.4,218.3L442.3,216.8L443.1,217.3L445.3,216.6L446.6,217.1L448.3,217.1L450.7,216.1L451.8,216.2L454.2,215.8L453.4,217.4L452.3,218.0L452.8,219.9L452.4,223.1Z"/>
<path d="M441.4,226.1L440.8,226.1L440.7,226.6L440.0,226.6L440.5,224.4L441.4,222.6L441.4,222.5L442.4,222.6L442.9,223.7L441.8,224.7Z"/>
<path d="M441.4,227.6L441.1,228.4L440.2,228.0L440.0,229.8L440.6,230.1L440.0,230.4L440.0,231.1L441.0,230.8L441.2,231.8L440.5,236.0L438.6,231.5L439.1,230.6L439.0,230.4L439.4,229.2L439.7,227.3L439.9,226.6L440.0,226.6L440.7,226.6L440.8,226.1L441.4,226.1L441.6,227.1L441.3,227.5Z"/>
<path d="M441.1,228.4L441.4,227.6L443.9,228.6L447.9,225.8L449.2,229.0L448.8,229.4L444.5,230.7L447.0,233.3L446.3,233.8L446.0,234.7L444.4,235.0L444.0,235.9L443.1,236.8L440.6,236.3L440.5,236.0L441.2,231.8L441.0,230.8L441.3,230.0Z"/>
<path d="M469.2,234.7L469.8,235.9L469.7,236.5L470.7,238.5L469.1,238.5L468.4,237.3L466.4,237.0L467.7,234.5Z"/>
<path d="M440.6,236.3L443.1,236.8L444.0,235.9L444.4,235.0L446.0,234.7L446.3,233.8L447.0,233.3L444.5,230.7L448.8,229.4L449.2,229.0L451.9,229.7L455.4,231.5L462.3,236.8L466.4,237.0L468.4,237.3L469.1,238.5L470.7,238.5L471.8,240.7L473.0,241.3L473.5,242.2L475.1,243.3L475.4,244.4L475.2,245.3L475.6,246.1L476.3,246.9L476.7,247.7L477.1,248.4L477.8,248.9L478.4,248.7L479.0,249.7L479.1,250.3L480.2,253.0L487.1,254.3L487.5,253.7L488.7,255.6L487.6,260.8L481.0,263.4L474.6,264.4L472.5,265.6L471.1,268.4L470.0,268.8L469.4,267.9L468.5,268.1L466.3,267.8L465.9,267.5L463.3,267.6L462.7,267.8L461.7,267.2L461.2,268.4L461.5,269.5L460.5,270.4L460.2,269.3L459.4,268.5L459.2,267.4L457.9,266.5L456.6,264.3L455.8,262.2L454.2,260.4L453.1,259.9L451.5,257.4L451.1,255.6L451.1,254.1L449.6,251.2L448.5,250.1L447.3,249.6L446.4,248.1L446.5,247.5L445.8,246.2L445.1,245.6L444.1,243.6L442.5,241.5L441.3,239.7L440.1,239.7L440.4,238.3L440.4,237.4Z"/>
<path d="M481.0,263.4L483.1,267.8L484.0,269.6L482.4,270.3L482.0,271.4L482.0,272.3L479.8,273.4L476.2,274.7L474.3,276.5L473.3,276.7L472.6,276.5L471.3,277.6L469.9,278.1L468.0,278.2L467.4,278.4L467.0,279.1L466.3,279.3L466.0,279.9L464.9,279.9L464.2,280.2L462.6,280.1L461.9,278.6L461.9,277.1L461.5,276.4L461.0,274.4L460.3,273.4L460.7,273.2L460.4,272.0L460.7,271.5L460.5,270.4L461.5,269.5L461.2,268.4L461.7,267.2L462.7,267.8L463.3,267.6L465.9,267.5L466.3,267.8L468.5,268.1L469.4,267.9L470.0,268.8L471.1,268.4L472.5,265.6L474.6,264.4Z"/>
<path d="M487.5,253.7L487.4,252.7L488.0,251.6L487.9,250.5L488.9,250.0L488.4,249.6L488.5,247.9L489.6,247.9L490.8,249.7L492.1,250.7L493.8,251.0L495.2,251.5L496.4,253.0L497.1,253.9L497.9,254.2L498.0,254.8L497.3,256.3L497.0,257.1L496.1,257.9L495.4,259.7L494.4,259.6L494.0,260.2L493.7,261.5L494.1,263.3L493.9,263.6L492.9,263.6L491.6,264.6L491.4,265.8L491.0,266.4L489.6,266.4L488.7,267.0L488.8,268.1L487.8,268.8L486.5,268.6L485.0,269.4L484.0,269.6L483.1,267.8L481.0,263.4L487.6,260.8L488.7,255.6ZM489.1,245.9L488.5,245.0L489.1,244.1L489.4,244.3L489.3,245.4Z"/>
<path d="M479.0,249.7L479.4,249.6L479.5,250.3L481.2,249.9L483.1,250.0L484.5,250.0L485.8,248.3L487.3,246.6L488.5,245.0L489.1,245.9L489.6,247.9L488.5,247.9L488.4,249.6L488.9,250.0L487.9,250.5L488.0,251.6L487.4,252.7L487.5,253.7L487.1,254.3L480.2,253.0L479.1,250.3Z"/>
<path d="M477.1,248.4L476.8,246.5L477.2,245.1L477.8,244.8L478.6,245.6L478.8,247.2L478.4,248.7L477.8,248.9Z"/>
<path d="M538.8,184.8L538.1,186.5L536.5,186.7L537.5,189.3L536.9,190.5L532.5,189.6L532.9,194.2L532.1,194.8L528.4,195.8L532.0,200.3L530.8,201.0L531.5,202.4L530.0,202.1L528.7,201.1L525.5,200.9L522.0,200.8L521.3,201.1L517.9,200.0L517.0,200.5L517.1,202.1L513.4,201.1L512.2,201.5L512.0,202.6L511.0,203.1L508.8,205.0L508.4,206.8L507.6,206.8L506.7,205.6L503.9,205.5L502.9,203.4L501.9,203.4L501.3,200.8L498.2,198.9L494.7,199.1L492.3,199.5L489.7,197.1L487.7,196.2L484.0,194.3L483.5,194.1L478.6,195.6L481.2,205.1L480.1,205.3L478.2,203.2L476.6,202.5L474.3,203.0L473.6,203.9L473.3,203.3L473.6,202.2L472.9,201.3L470.3,200.4L468.8,198.1L467.5,197.5L467.2,196.6L469.3,196.9L468.9,195.0L470.6,194.5L472.5,194.9L472.2,192.4L471.4,190.9L469.4,191.0L467.5,190.3L465.4,191.5L463.6,192.0L462.5,191.6L462.4,190.3L460.7,188.6L459.2,188.6L457.1,186.9L457.7,185.0L457.0,184.5L457.9,181.7L460.4,183.2L460.1,181.3L463.4,178.6L466.5,178.5L471.4,180.2L474.1,181.3L475.8,180.2L478.9,180.2L481.9,181.4L482.3,180.7L485.1,180.8L485.2,179.6L481.3,177.9L482.8,176.7L482.2,176.0L483.8,175.3L481.7,173.6L482.3,172.8L489.2,171.9L489.9,171.3L494.3,170.4L495.6,169.4L499.3,169.9L501.1,172.5L502.8,171.9L505.7,172.7L506.2,174.1L508.0,173.9L511.7,171.6L511.4,172.4L514.8,174.3L522.2,180.7L522.7,179.3L526.1,180.8L528.6,180.1L530.0,180.6L531.6,182.1L533.3,182.5L534.6,183.6L537.0,183.3Z"/>
<path d="M481.2,205.1L478.6,195.6L483.5,194.1L484.0,194.3L487.7,196.2L489.7,197.1L492.3,199.5L494.7,199.1L498.2,198.9L501.3,200.8L501.9,203.4L502.9,203.4L503.9,205.5L506.7,205.6L507.6,206.8L508.4,206.8L508.8,205.0L511.0,203.1L512.0,202.6L512.7,202.9L511.5,204.6L513.4,205.6L514.7,204.9L517.6,206.3L515.4,208.1L513.8,207.9L512.9,208.0L512.4,207.2L512.5,206.0L509.8,206.6L509.6,208.3L509.0,209.8L507.2,209.6L507.0,210.8L508.7,211.4L509.7,213.3L509.2,216.0L507.4,215.4L506.2,215.4L505.9,213.8L502.7,212.7L500.2,211.4L498.5,210.2L495.6,208.4L493.8,205.7L493.0,205.2L490.7,205.4L489.8,204.8L489.0,202.8L485.8,201.4L484.4,202.9L482.9,203.8L483.6,205.1Z"/>
<path d="M473.6,203.9L474.3,203.0L476.6,202.5L478.2,203.2L480.1,205.3L481.2,205.1L483.6,205.1L482.9,203.8L484.4,202.9L485.8,201.4L489.0,202.8L489.8,204.8L490.7,205.4L493.0,205.2L493.8,205.7L495.6,208.4L498.5,210.2L500.2,211.4L502.7,212.7L505.9,213.8L506.2,215.4L505.5,215.3L504.3,214.6L504.2,215.5L502.5,216.1L502.6,218.2L501.5,218.9L499.9,219.3L499.7,220.5L498.2,220.9L495.7,219.9L495.1,217.7L493.5,217.6L490.5,215.3L488.7,215.0L486.0,213.7L484.5,213.4L483.6,213.9L482.2,213.8L481.0,215.3L479.2,215.8L478.4,214.0L478.1,211.3L476.3,210.4L476.4,208.6L475.0,208.5L475.0,206.3L477.1,206.9L478.8,206.1L476.9,204.5L475.9,203.0L474.4,203.7L474.6,205.6Z"/>
<path d="M512.0,202.6L512.2,201.5L513.4,201.1L517.1,202.1L517.0,200.5L517.9,200.0L521.3,201.1L522.0,200.8L525.5,200.9L528.7,201.1L530.0,202.1L531.5,202.4L531.4,203.0L528.6,204.4L528.2,205.4L525.6,205.8L525.3,207.4L523.0,207.1L521.7,207.6L520.0,208.8L520.5,209.4L520.1,210.0L516.1,210.4L513.3,209.6L511.0,209.8L510.8,208.3L513.2,208.7L513.8,207.9L515.4,208.1L517.6,206.3L514.7,204.9L513.4,205.6L511.5,204.6L512.7,202.9Z"/>
<path d="M513.8,207.9L513.2,208.7L510.8,208.3L511.0,209.8L513.3,209.6L516.1,210.4L520.1,210.0L521.3,212.4L521.9,212.2L523.4,212.8L523.6,213.8L524.4,215.3L522.1,215.3L520.6,215.0L519.6,216.2L518.7,216.5L518.1,217.0L517.0,216.2L516.6,214.0L515.9,213.9L516.0,213.1L514.6,212.5L514.0,213.4L514.0,214.4L513.8,214.8L512.5,214.8L512.1,216.0L511.2,215.5L509.9,216.3L509.2,216.0L509.7,213.3L508.7,211.4L507.0,210.8L507.2,209.6L509.0,209.8L509.6,208.3L509.8,206.6L512.5,206.0L512.4,207.2L512.9,208.0Z"/>
<path d="M495.7,219.9L498.2,220.9L499.7,220.5L499.9,219.3L501.5,218.9L502.6,218.2L502.5,216.1L504.2,215.5L504.3,214.6L505.5,215.3L506.2,215.4L507.4,215.4L509.2,216.0L509.9,216.3L511.2,215.5L512.1,216.0L512.5,214.8L513.8,214.8L514.0,214.4L514.0,213.4L514.6,212.5L516.0,213.1L515.9,213.9L516.6,214.0L517.0,216.2L518.1,217.0L518.7,216.5L519.6,216.2L520.6,215.0L522.1,215.3L524.4,215.3L525.0,216.0L523.8,216.3L522.8,216.8L520.4,217.1L518.2,217.6L517.3,218.8L518.1,219.9L518.6,221.2L517.8,222.3L518.1,223.3L517.7,224.2L515.7,224.1L516.9,225.9L515.7,226.5L515.1,228.1L515.5,229.7L514.8,230.4L513.9,230.2L512.3,230.5L512.2,231.3L510.6,231.3L509.6,232.7L510.0,234.9L507.3,236.0L505.7,235.8L505.3,236.4L504.0,236.0L501.8,236.4L497.9,235.1L499.5,232.7L499.0,231.0L497.3,230.6L496.8,229.0L495.7,226.9L496.3,225.4L495.3,225.0L495.5,223.1Z"/>
<path d="M567.4,240.5L568.4,241.3L568.6,242.9L566.8,243.0L564.9,242.8L563.6,243.2L561.4,242.2L561.2,241.7L562.3,239.8L563.3,239.1L565.1,239.7L566.2,239.8Z"/>
<path d="M551.1,293.5L550.9,296.2L550.0,296.9L548.0,297.5L546.8,295.5L546.2,291.7L547.0,287.5L548.7,288.9L549.9,290.8Z"/>
<path d="M588.4,260.3L587.3,261.5L585.7,261.6L585.1,264.4L584.2,264.9L585.6,267.2L587.3,269.1L588.4,270.8L587.9,273.1L587.2,273.6L587.9,274.9L589.6,277.0L590.0,278.4L590.1,279.7L591.2,282.0L590.2,284.5L589.3,287.2L588.9,285.2L589.4,283.2L588.5,281.7L588.5,278.8L587.4,277.5L586.3,274.3L585.5,271.0L584.2,268.9L582.9,270.2L580.6,272.0L579.2,271.8L577.8,271.2L578.1,267.9L577.3,265.5L575.1,262.5L575.3,261.5L573.9,261.2L572.0,259.1L571.6,256.9L572.4,257.4L572.2,255.5L573.2,254.9L572.8,253.8L573.2,252.9L572.9,250.1L574.7,250.7L575.3,248.6L575.2,247.3L576.1,245.1L575.7,243.6L578.2,241.8L579.9,242.3L579.3,240.7L580.0,240.2L579.6,239.2L580.9,239.0L582.0,240.5L583.1,241.2L583.6,243.2L584.0,245.3L582.3,247.5L582.5,250.6L584.9,250.2L585.8,252.6L587.3,253.1L587.0,255.3L588.8,256.3L589.9,256.7L591.4,256.0L591.6,257.1L590.0,258.8L589.6,259.7Z"/>
<path d="M603.5,275.8L604.1,274.6L603.9,272.4L601.8,270.1L601.3,267.5L599.2,265.4L597.5,265.2L597.1,266.2L595.8,266.2L595.1,265.8L592.9,267.3L592.5,265.0L592.6,262.2L591.1,262.1L590.7,260.5L589.6,259.7L590.0,258.8L591.6,257.1L591.9,257.7L593.1,257.8L592.3,254.8L593.5,254.4L595.1,256.4L596.5,258.8L599.3,258.8L600.5,261.1L599.2,261.8L598.7,262.7L601.6,264.3L604.0,267.4L605.8,269.7L607.7,271.5L608.5,273.4L608.4,276.0L606.3,275.0L605.5,276.8Z"/>
<path d="M600.5,285.3L599.4,284.0L598.0,281.3L597.2,278.1L598.4,275.9L601.3,275.4L603.5,275.8L605.5,276.8L606.3,275.0L608.4,276.0L609.2,277.7L609.2,280.9L605.6,282.9L606.7,284.5L604.3,284.7L602.4,285.7Z"/>
<path d="M595.7,296.9L595.9,298.3L597.4,297.9L598.1,296.9L598.6,297.1L600.1,298.7L601.1,300.4L601.3,302.2L601.1,303.4L601.4,304.3L601.6,305.9L602.4,306.6L603.4,308.9L603.4,309.8L601.7,309.9L599.5,308.0L596.7,305.9L596.4,304.6L595.0,302.8L594.6,300.7L593.7,299.3L593.9,297.3L593.4,296.2L593.7,295.8ZM636.3,301.4L634.6,302.3L632.6,301.9L629.9,301.9L629.3,304.9L628.4,305.8L627.3,309.4L625.5,310.0L623.3,309.2L622.2,309.5L620.8,310.8L619.4,310.6L617.9,311.1L616.3,309.6L615.8,307.9L617.6,308.8L619.3,308.3L619.7,306.1L620.7,305.6L623.5,305.0L625.0,303.0L626.1,301.3L627.2,302.7L627.6,301.8L628.7,301.8L628.8,300.2L628.8,298.9L630.5,297.1L631.6,295.0L632.5,295.0L633.7,296.4L633.9,297.5L635.5,298.2L637.4,299.0L637.3,300.0L635.8,300.1Z"/>
<path d="M626.1,301.3L627.0,300.3L628.8,298.9L628.8,300.2L628.7,301.8L627.6,301.8L627.2,302.7Z"/>
<path d="M650.2,336.4L652.5,335.2L654.1,335.1L654.9,334.8L655.7,335.1L654.8,335.8L652.3,337.0L650.3,337.7L650.3,336.9Z"/>
<path d="M638.5,264.7L640.1,265.5L640.7,264.8L641.0,265.5L640.8,266.6L641.9,268.4L641.6,270.6L640.4,271.5L640.4,273.6L641.2,275.7L642.4,275.9L643.4,275.6L646.5,277.1L646.4,278.5L647.2,279.1L647.2,280.3L645.2,279.1L644.2,277.7L643.7,278.6L642.1,277.1L640.0,277.5L638.8,276.9L638.8,275.8L639.4,275.1L638.7,274.5L638.5,275.5L637.2,274.0L636.7,272.8L636.2,270.3L637.3,271.2L636.8,267.1L637.2,264.7ZM653.5,291.1L653.9,292.9L654.1,294.3L653.5,296.7L652.4,294.1L651.5,295.4L652.3,297.3L651.7,298.6L648.9,297.0L648.2,295.1L648.8,293.9L647.2,292.7L646.6,293.7L645.5,293.6L643.9,295.1L643.5,294.3L644.2,292.1L645.6,291.4L646.8,290.4L647.7,291.6L649.4,290.9L649.7,289.7L651.3,289.6L651.0,287.6L652.9,288.8L653.3,290.2ZM637.0,283.4L637.6,285.5L636.3,287.0L635.2,288.8L632.3,291.3L633.3,289.4L634.9,287.8L636.1,286.0ZM647.6,280.3L649.8,280.3L650.5,281.3L651.5,284.2L649.6,283.6L649.8,284.4L650.5,286.0L649.5,286.6L649.2,284.8L648.5,284.7L648.0,283.1L649.3,283.3L649.2,282.3ZM647.6,286.3L646.8,287.1L646.2,288.8L645.6,289.6L644.0,287.7L644.4,287.0L644.9,286.3L645.0,284.7L646.3,284.5L646.1,286.3L647.5,283.8ZM642.3,282.0L643.8,282.9L645.2,282.9L645.3,283.9L644.4,285.0L643.0,285.8L642.8,284.6L642.8,283.3ZM641.1,279.0L640.8,281.2L639.7,279.9L638.3,277.9L640.2,278.0Z"/>
<path d="M636.7,249.3L636.2,253.5L635.6,255.7L634.0,253.5L633.4,251.5L634.1,248.9L635.5,247.0L636.7,247.7Z"/>
<path d="M637.1,202.3L637.7,202.8L636.8,202.6L636.4,203.5L636.3,204.4L637.5,206.3L636.7,206.8L636.5,207.3L636.1,208.0L635.0,208.5L634.4,209.2L634.9,210.3L634.8,210.6L635.9,211.0L637.7,212.2L637.7,212.8L636.9,213.0L635.4,213.1L635.1,214.3L634.1,214.2L634.1,214.4L632.8,213.9L632.8,214.4L632.3,214.6L632.0,214.1L631.3,213.9L630.5,213.5L630.6,212.3L630.9,212.0L630.5,211.5L630.3,210.1L630.0,209.7L628.6,209.4L627.2,208.7L628.1,207.1L629.7,205.7L630.1,203.8L631.5,204.6L633.4,204.7L632.3,203.4L634.9,202.3L634.9,200.8Z"/>
<path d="M637.7,212.2L641.0,215.2L642.4,216.9L643.8,219.9L643.6,221.4L641.8,221.9L640.6,222.9L638.7,223.2L637.8,221.8L637.4,219.8L635.2,217.1L636.6,216.6L634.1,214.4L634.1,214.2L635.1,214.3L635.4,213.1L636.9,213.0L637.7,212.8Z"/>
<path d="M656.7,223.8L657.4,224.7L656.8,226.3L655.6,225.4L654.7,226.0L654.8,227.6L653.0,226.8L652.6,225.6L653.1,224.0L654.5,224.3L654.9,223.2ZM666.7,216.0L667.0,218.1L668.0,219.4L667.8,221.2L665.6,222.4L661.8,222.6L660.0,225.6L658.1,224.6L657.2,222.6L653.6,223.2L651.6,224.5L649.1,224.5L652.1,226.4L652.4,230.9L651.4,232.0L649.9,230.9L649.6,228.6L647.9,227.8L646.3,226.0L648.0,225.2L648.4,223.6L650.0,222.2L650.8,220.5L654.8,219.7L657.4,220.2L657.4,215.6L659.4,216.8L661.2,214.2L661.9,213.2L661.5,210.0L659.5,207.1L659.4,205.4L661.3,205.0L664.6,208.6L665.8,210.7L665.3,213.3ZM661.9,197.7L663.7,198.3L664.5,197.2L666.9,200.1L664.3,200.8L664.1,203.3L659.7,201.6L660.4,204.4L658.0,204.5L656.1,201.9L655.9,199.9L658.0,199.8L656.2,196.2L655.5,194.2L659.7,196.9Z"/>
<path d="M688.0,320.0L692.0,321.8L696.1,323.2L697.7,324.6L698.9,325.9L699.1,327.5L702.9,329.1L703.3,330.4L701.2,330.7L701.6,332.5L703.5,334.2L704.7,337.0L706.0,336.9L705.8,338.0L707.5,338.5L706.8,339.0L709.1,340.1L708.8,340.8L707.2,341.0L706.7,340.3L704.8,340.0L702.5,339.7L700.9,338.0L699.8,336.5L698.8,334.3L695.9,333.1L693.9,333.9L692.4,334.7L692.5,336.6L690.6,337.6L689.4,337.1L687.0,337.0L687.6,328.5ZM714.7,322.7L715.6,323.6L715.8,324.9L715.0,325.6L714.7,324.1L714.2,323.1L713.2,322.2L711.9,321.1L710.3,320.3L711.0,319.7L712.2,320.4L712.9,321.0L713.9,321.6ZM711.3,328.4L710.0,329.1L708.8,329.7L707.6,329.7L705.7,328.9L704.5,328.2L704.7,327.4L706.8,327.7L708.0,327.6L708.5,326.3L708.8,326.2L708.9,327.6L710.3,327.4L711.0,326.5L712.3,325.6L712.1,324.1L713.5,324.0L714.0,324.4L713.8,325.9L712.9,327.5L711.7,327.7ZM719.4,327.1L720.0,327.7L721.0,329.4L722.0,330.3L721.7,331.0L721.0,331.3L720.1,330.3L719.2,328.6L718.8,326.6L719.2,326.3Z"/>
<path d="M691.3,349.2L691.8,351.2L693.4,350.2L694.0,351.3L694.9,352.3L694.5,353.5L694.6,355.8L694.7,357.1L695.2,357.4L695.3,359.6L694.8,361.0L695.2,362.8L697.4,364.1L698.7,365.4L700.0,366.5L699.5,367.1L700.4,368.8L700.7,371.6L701.7,371.0L702.4,372.2L703.0,371.8L702.7,374.5L703.9,376.2L704.7,377.1L705.8,379.3L705.8,381.4L705.3,382.9L704.6,384.5L704.9,386.7L703.9,389.0L703.1,390.2L701.5,392.6L700.9,394.0L699.7,395.9L697.6,398.3L695.4,399.6L693.6,401.6L692.2,402.9L690.4,405.2L688.9,406.5L687.4,408.4L686.1,410.2L685.8,411.1L684.0,412.0L681.5,412.1L679.0,413.1L677.4,414.1L675.5,415.3L674.4,414.1L673.3,413.7L674.4,412.3L673.0,412.8L670.0,414.7L668.6,414.0L667.6,413.5L666.5,413.4L664.8,412.6L664.3,411.0L664.9,409.0L665.5,406.6L664.5,406.6L662.5,406.3L663.9,405.1L664.2,403.1L662.3,404.9L660.2,405.4L662.0,404.0L663.0,402.5L664.4,401.2L665.1,399.2L662.3,401.5L660.6,402.3L658.8,404.4L657.6,403.4L658.3,402.0L657.7,400.1L657.0,399.1L657.6,398.5L655.5,396.9L654.0,396.8L652.3,395.6L648.3,395.8L645.1,396.7L642.2,397.6L640.2,397.5L637.4,398.8L635.2,399.4L634.3,400.8L633.1,401.8L631.2,401.9L629.7,402.1L628.0,401.6L626.3,401.9L624.7,402.1L622.9,403.4L622.3,403.3L620.9,404.1L619.5,404.9L618.0,404.8L616.5,404.8L614.9,403.1L613.9,402.6L614.5,401.1L615.7,400.8L616.3,400.2L616.6,399.2L617.5,397.4L617.8,395.9L617.5,393.2L617.6,391.7L618.1,390.2L617.7,388.5L617.9,387.8L617.2,386.7L617.5,384.7L616.7,382.6L616.7,381.5L617.4,382.6L617.2,380.2L618.1,380.9L618.6,382.0L618.8,380.6L618.2,378.6L618.2,377.7L617.8,376.9L618.4,375.4L619.0,374.8L619.5,373.5L619.5,372.0L620.8,370.1L620.6,372.1L621.9,370.3L623.9,369.4L625.2,368.3L627.1,367.3L628.1,367.1L628.7,367.4L630.7,366.4L632.1,366.2L632.5,365.6L633.2,365.3L634.4,365.4L636.9,364.6L638.4,363.5L639.2,362.1L640.8,360.8L641.1,359.7L641.3,358.3L643.3,356.1L643.9,358.3L645.0,357.8L644.3,356.6L645.3,355.3L646.2,355.9L646.8,353.9L648.2,352.6L648.9,351.6L650.1,351.1L650.3,350.4L651.2,350.7L651.3,350.0L652.4,349.6L653.6,349.3L655.1,350.5L656.1,352.1L657.6,352.1L659.0,352.3L658.7,350.9L660.1,348.8L661.2,348.1L660.9,347.5L662.1,346.0L663.6,345.0L664.8,345.3L666.8,344.8L666.9,343.5L665.3,342.6L666.5,342.3L668.0,342.9L669.1,344.0L670.9,344.7L671.6,344.4L672.9,345.2L674.4,344.4L675.2,344.7L675.8,344.2L676.7,345.5L675.9,346.9L674.9,347.9L674.1,348.0L674.2,349.0L673.3,350.4L672.3,351.7L672.4,352.4L674.0,353.8L675.6,354.7L676.6,355.6L677.9,357.1L678.6,357.1L679.7,357.8L679.9,358.6L681.9,359.5L683.5,358.6L684.2,357.2L684.9,356.0L685.5,354.6L686.5,352.5L686.4,351.2L686.7,350.5L686.7,349.0L687.2,347.0L687.7,346.5L687.5,345.6L688.3,344.2L688.9,342.8L689.0,342.0L690.0,341.1L690.5,342.3L690.4,344.0L691.0,344.3L690.9,345.4L691.6,346.7L691.5,348.2ZM670.8,419.8L672.3,420.7L673.6,420.4L675.6,419.9L676.8,420.0L674.9,423.1L673.6,424.0L672.0,426.1L671.7,425.4L669.0,427.2L668.7,427.0L667.5,427.0L667.7,424.7L668.5,423.0L668.8,420.8L669.5,419.6ZM659.3,406.3L661.4,406.3L662.1,407.1L660.4,407.5L658.9,407.1ZM662.0,342.7L664.1,342.7L664.4,343.5L662.3,344.0L661.2,343.8Z"/>
<path d="M738.8,417.9L737.0,419.3L734.6,421.1L732.2,422.1L732.3,421.5L731.7,421.1L734.6,419.0L734.9,417.5L733.4,416.5L734.1,415.6L736.2,414.6L738.0,412.6L739.0,410.9L739.2,409.2L739.6,408.7L739.2,407.6L738.9,405.4L739.1,403.5L740.0,403.3L740.3,404.8L741.6,405.4L740.8,407.8L740.6,410.5L741.8,408.7L742.3,409.4L741.4,411.4L742.5,412.2L743.9,412.5L745.8,411.5L746.6,411.8L744.5,414.1L742.8,415.6L741.2,415.6L740.1,416.3L739.5,417.5ZM716.7,427.0L719.5,425.6L721.9,424.3L724.3,422.4L725.6,421.7L727.0,420.3L729.4,419.0L729.0,420.2L728.7,421.2L731.0,420.2L730.8,421.3L729.9,422.4L728.2,423.5L725.3,425.5L723.4,426.5L723.2,427.7L721.5,427.8L719.0,428.7L717.0,430.4L713.7,433.0L711.1,434.2L709.5,434.9L707.7,434.9L707.0,434.0L705.0,433.8L705.4,432.9L708.0,431.0L712.7,428.4L714.4,428.0Z"/>
<path d="M735.0,340.6L735.5,341.5L733.9,341.5L733.3,339.8L734.6,340.5ZM734.3,338.3L733.9,338.7L732.4,336.5L732.1,334.9L732.9,334.9L733.5,337.0ZM732.3,339.0L731.4,339.1L730.0,338.8L729.6,338.4L729.8,337.3L731.3,337.7L732.0,338.3ZM730.0,334.1L730.5,335.0L730.5,335.5L728.8,334.4L727.7,333.4L726.9,332.6L727.3,332.3L728.3,332.9ZM724.5,331.5L725.4,332.4L724.9,332.5L723.9,331.9L723.1,330.9L723.2,330.4Z"/>
<path d="M744.3,354.7L745.4,356.2L744.6,356.6L744.1,355.4ZM743.5,354.1L743.3,353.4L743.6,351.4L744.6,352.2L744.5,354.3L744.0,354.0Z"/>
<path d="M737.8,368.3L739.3,369.9L740.1,371.1L739.1,371.8L738.1,371.1L736.7,369.9L735.6,368.5L734.6,366.6L734.5,365.8L735.5,365.8L736.5,366.7L737.3,367.6Z"/>
<path d="M768.9,358.5L769.5,359.3L768.7,360.6L767.2,361.0L766.1,360.7L766.1,359.5L767.2,358.6L768.2,358.9ZM771.5,357.1L769.9,357.7L769.8,356.7L771.1,356.1L771.8,356.0L773.4,355.2L773.1,356.5Z"/>
<path d="M222.9,268.5L222.7,268.0L222.2,268.0L221.9,268.5L222.1,268.9L222.6,268.9ZM220.8,267.8L220.6,267.3L220.1,267.3L219.8,267.8L220.0,268.3L220.5,268.3ZM223.3,270.6L223.0,270.2L222.5,270.2L222.3,270.6L222.5,271.1L223.0,271.1ZM223.5,272.8L223.3,272.3L222.8,272.3L222.5,272.8L222.7,273.2L223.2,273.2ZM224.2,274.8L223.9,274.3L223.4,274.3L223.2,274.8L223.4,275.3L223.9,275.3ZM224.1,276.8L223.9,276.3L223.4,276.3L223.1,276.8L223.3,277.3L223.8,277.3ZM223.5,278.5L223.3,278.0L222.8,278.0L222.5,278.5L222.7,279.0L223.2,279.0ZM227.2,278.7L227.0,278.2L226.5,278.2L226.2,278.7L226.5,279.2L227.0,279.2ZM222.2,281.5L222.0,281.0L221.5,281.0L221.2,281.5L221.5,281.9L222.0,281.9ZM216.6,265.1L216.4,264.7L215.9,264.7L215.6,265.1L215.8,265.6L216.3,265.6Z"/>
<path d="M309.7,273.6L309.4,273.2L308.9,273.2L308.7,273.6L308.9,274.1L309.4,274.1ZM307.9,274.2L307.7,273.7L307.2,273.7L306.9,274.2L307.2,274.6L307.7,274.6ZM306.4,268.7L306.2,268.2L305.7,268.2L305.4,268.7L305.6,269.1L306.1,269.1ZM311.3,271.0L311.1,270.6L310.6,270.6L310.3,271.0L310.6,271.5L311.1,271.5ZM308.6,269.7L308.4,269.2L307.9,269.2L307.6,269.7L307.9,270.2L308.4,270.2Z"/>
<path d="M378.8,312.5L378.5,312.0L378.0,312.0L377.7,312.5L378.0,313.0L378.5,313.0ZM380.6,309.0L380.3,308.5L379.8,308.5L379.6,309.0L379.8,309.4L380.3,309.4Z"/>
<path d="M462.9,343.8L462.7,343.3L462.1,343.3L461.9,343.8L462.1,344.2L462.6,344.2ZM465.2,345.1L465.0,344.6L464.5,344.6L464.2,345.1L464.5,345.5L465.0,345.5ZM466.9,346.6L466.7,346.2L466.2,346.2L465.9,346.6L466.1,347.1L466.6,347.1Z"/>
<path d="M491.4,325.3L491.1,324.8L490.6,324.8L490.4,325.3L490.6,325.8L491.1,325.8Z"/>
<path d="M493.8,366.1L493.6,365.7L493.1,365.7L492.8,366.1L493.0,366.6L493.5,366.6Z"/>
<path d="M712.7,293.8L712.4,293.3L711.9,293.3L711.6,293.8L711.9,294.3L712.4,294.3ZM727.5,295.1L727.2,294.6L726.7,294.6L726.5,295.1L726.8,295.6L727.3,295.6ZM757.4,294.6L757.1,294.1L756.5,294.1L756.3,294.6L756.6,295.0L757.1,295.0ZM752.9,289.6L752.6,289.1L752.1,289.1L751.9,289.6L752.2,290.1L752.7,290.1ZM748.4,314.5L748.2,314.0L747.7,314.0L747.4,314.5L747.7,314.9L748.2,314.9ZM762.4,309.5L762.2,309.0L761.7,309.0L761.4,309.5L761.7,310.0L762.2,310.0ZM775.4,335.4L775.2,334.9L774.7,334.9L774.4,335.4L774.6,335.9L775.1,335.9ZM768.9,345.9L768.7,345.4L768.2,345.4L767.8,345.9L768.0,346.3L768.5,346.3ZM672.9,293.5L672.6,293.1L672.1,293.1L671.8,293.5L672.1,294.0L672.6,294.0ZM694.8,278.0L694.4,277.5L693.9,277.5L693.8,278.0L694.1,278.4L694.6,278.4ZM-30.7,348.9L-31.1,348.4L-31.6,348.4L-31.7,348.9L-31.4,349.3L-30.9,349.3ZM-32.5,368.5L-32.9,368.0L-33.4,368.0L-33.5,368.5L-33.1,369.0L-32.7,369.0Z"/>
</g>
<g stroke="#444" stroke-width="0.35">
<path fill="#b3cde3" d="M145.5,245.5L144.2,247.8L143.5,249.6L142.7,253.2L142.3,254.4L142.5,255.9L143.0,257.1L143.1,259.1L144.3,261.1L144.7,262.6L145.4,263.9L147.7,264.6L148.5,265.7L150.6,265.0L152.3,264.7L154.1,264.2L155.6,263.8L157.2,262.7L157.9,261.2L158.4,259.0L158.9,258.2L160.5,257.5L163.0,256.9L165.0,257.0L166.4,256.8L166.9,257.3L166.6,258.6L165.2,260.1L164.4,261.7L164.8,262.2L164.3,263.3L163.5,265.4L163.0,264.7L162.5,264.7L162.5,264.7L162.1,264.8L161.1,266.4L160.7,266.1L160.4,266.2L160.4,266.6L158.3,266.5L156.1,266.5L156.0,268.0L154.9,268.0L155.7,268.9L156.4,269.5L156.6,270.1L157.0,270.2L156.8,271.1L153.9,271.1L152.5,273.2L152.8,273.7L152.5,274.3L152.3,275.1L152.3,275.1L150.1,272.3L149.0,271.4L147.2,270.8L145.9,270.9L144.0,271.9L142.8,272.2L141.3,271.5L139.6,271.0L137.6,269.8L136.0,269.4L133.6,268.2L131.8,267.0L131.4,266.3L130.1,266.1L127.9,265.3L127.1,264.1L124.9,262.6L124.1,261.0L123.7,259.7L124.5,259.4L124.4,258.7L125.0,258.0L125.2,257.1L124.6,255.9L124.6,254.9L124.0,253.6L122.5,251.0L120.6,248.9L119.9,247.3L118.2,246.2L117.9,245.6L118.6,244.0L117.7,243.3L116.6,242.1L116.5,240.3L115.4,240.0L114.5,238.7L113.8,237.4L113.9,236.6L113.3,234.6L113.2,232.6L113.5,231.6L112.2,230.5L111.5,230.7L110.4,229.9L109.7,231.0L109.7,232.3L109.3,234.2L109.7,235.3L110.8,237.1L111.0,237.7L111.3,237.9L111.4,238.8L111.8,238.8L111.8,240.5L112.3,241.1L112.5,242.1L113.6,243.4L113.8,245.8L114.2,247.0L114.5,248.2L114.3,249.6L115.4,249.6L116.1,250.9L116.7,252.0L116.6,252.5L115.4,253.4L115.0,253.4L114.7,251.8L113.5,250.4L112.2,249.1L111.2,248.4L111.7,246.5L111.6,245.1L110.8,244.3L109.5,243.1L109.1,243.4L108.7,242.8L107.5,242.1L106.6,240.6L106.8,240.4L107.7,240.6L108.8,239.6L109.2,238.4L108.0,236.5L106.9,235.8L106.6,234.2L106.3,232.5L106.0,230.4L106.0,228.1L106.0,228.1L111.4,227.6L111.0,228.1L118.3,231.3L124.5,231.3L124.9,230.1L128.6,230.1L131.0,233.1L131.4,235.7L134.1,237.4L135.9,235.3L137.7,235.2L139.1,236.2L140.2,239.6L141.1,241.2L141.6,244.1L144.7,245.5L145.5,245.5Z"/>
<path fill="#8c96c6" d="M200.5,261.6L200.6,263.0L200.3,264.0L199.7,264.4L200.2,265.2L200.1,266.0L198.6,265.5L197.5,265.7L196.2,265.5L195.0,266.0L193.9,265.2L194.2,264.3L196.2,264.7L197.9,264.9L198.8,264.3L197.9,263.2L198.0,262.2L196.6,261.8L197.2,261.0L198.6,261.2Z"/>
<path fill="#b3cde3" d="M186.9,264.8L188.4,265.0L189.5,265.6L189.8,266.3L188.2,266.4L187.5,266.8L186.2,266.4L185.1,265.5L185.4,264.9Z"/>
<path fill="#b3cde3" d="M189.2,313.5L188.2,312.9L187.1,312.1L186.4,312.5L184.5,312.1L183.9,311.0L183.5,311.0L181.2,309.5L180.9,308.7L181.8,308.5L181.7,307.2L182.2,306.3L183.4,306.1L184.4,304.4L185.3,303.1L184.5,302.4L185.0,300.9L184.5,298.6L185.0,297.8L184.8,295.6L183.9,294.3L184.2,293.0L185.0,293.2L185.4,292.4L185.0,290.9L185.3,290.5L186.5,290.5L188.3,288.7L189.2,288.5L189.3,287.6L189.9,285.4L191.2,284.2L192.7,284.1L192.9,283.6L194.7,283.8L196.6,282.5L197.5,281.9L198.7,280.6L199.5,280.8L200.1,281.5L199.6,282.3L198.1,282.8L197.4,284.1L196.5,284.8L195.7,285.8L195.4,287.7L194.7,289.2L195.8,289.4L196.1,290.6L196.5,291.1L196.7,292.2L196.4,293.2L196.4,293.7L197.0,293.9L197.5,294.9L200.5,294.6L201.8,294.9L203.3,297.2L204.3,296.9L205.9,297.1L207.2,296.7L208.0,297.2L207.6,298.6L207.0,299.5L206.8,301.4L207.2,303.1L207.9,303.9L207.9,304.5L206.7,305.8L207.6,306.3L208.2,307.3L208.8,309.9L208.4,310.2L208.0,308.6L207.3,307.8L206.5,308.7L202.1,308.7L202.1,310.3L203.4,310.6L203.3,311.6L202.9,311.3L201.6,311.7L201.6,313.6L202.6,314.6L203.0,316.1L202.9,317.2L202.0,324.4L200.8,323.0L200.2,322.9L201.6,320.3L199.8,319.1L198.4,319.3L197.6,318.8L196.3,319.5L194.6,319.2L193.2,316.4L192.1,315.8L191.4,314.5L189.8,313.3Z"/>
<path fill="#b3cde3" d="M178.0,322.0L179.2,320.1L178.6,319.0L177.8,320.2L176.4,319.0L176.8,318.3L176.4,315.9L177.2,315.5L177.6,313.9L178.5,312.2L178.3,311.1L179.6,310.6L181.2,309.5L183.5,311.0L183.9,311.0L184.5,312.1L186.4,312.5L187.1,312.1L188.2,312.9L189.2,313.5L189.6,315.5L188.9,317.2L186.4,320.0L183.6,321.0L182.3,323.3L181.9,325.1L180.6,326.1L179.6,324.8L178.7,324.5L177.7,324.7L177.6,323.8L178.3,323.1Z"/>
<path fill="#b3cde3" d="M235.5,392.2L238.0,388.6L240.1,386.1L241.5,385.0L243.2,383.6L243.0,381.5L241.7,380.0L240.7,380.5L240.9,379.0L241.1,377.4L241.0,376.0L240.1,375.5L239.3,375.9L238.4,375.8L238.1,374.8L237.7,372.4L237.2,371.7L235.6,370.9L234.7,371.4L232.3,370.9L232.1,367.4L231.3,365.9L232.0,365.4L231.6,363.9L232.1,362.8L232.4,360.7L231.7,359.1L230.4,358.3L230.1,357.3L230.3,355.8L225.9,355.7L224.8,352.6L225.5,352.6L225.4,351.5L224.9,350.7L224.7,349.2L223.3,348.4L221.9,348.4L220.9,347.7L219.3,347.2L218.3,346.2L215.7,345.8L213.1,343.4L213.2,341.7L212.9,340.6L213.0,338.7L210.0,339.1L208.9,340.1L206.9,341.2L206.5,342.0L205.3,342.0L203.6,341.8L202.3,342.2L201.2,342.0L201.2,338.0L199.4,339.5L197.3,339.4L196.4,338.1L194.9,337.9L195.3,336.8L193.9,335.2L192.9,332.8L193.5,332.4L193.4,331.3L194.8,330.5L194.5,329.1L195.1,328.2L195.2,326.9L197.8,325.2L199.6,324.7L200.0,324.3L202.0,324.4L202.9,317.2L203.0,316.1L202.6,314.6L201.6,313.6L201.6,311.7L202.9,311.3L203.3,311.6L203.4,310.6L202.1,310.3L202.1,308.7L206.5,308.7L207.3,307.8L208.0,308.6L208.4,310.2L208.8,309.9L210.1,311.3L211.9,311.1L212.3,310.3L214.1,309.7L215.0,309.3L215.3,308.1L216.9,307.4L216.8,306.8L214.9,306.6L214.6,305.0L214.7,303.2L213.7,302.5L214.1,302.3L215.8,302.6L217.7,303.3L218.3,302.7L220.0,302.3L222.6,301.3L223.5,300.3L223.2,299.5L224.4,299.4L224.9,300.0L224.6,301.2L225.4,301.6L225.9,302.8L225.2,303.7L224.8,305.9L225.4,307.3L225.5,308.5L226.9,309.7L228.0,309.8L228.3,309.3L229.0,309.2L230.1,308.8L230.8,308.0L232.1,308.3L232.7,308.2L233.9,308.4L234.1,307.9L233.8,307.3L234.0,306.6L234.9,306.8L236.0,306.6L237.3,307.1L238.3,307.6L239.1,306.9L239.6,307.1L239.9,307.8L241.0,307.6L241.9,306.6L242.6,304.7L244.0,302.3L244.8,302.2L245.4,303.6L246.6,308.2L247.8,308.6L247.8,310.4L246.1,312.6L246.8,313.4L250.9,313.8L251.0,316.4L252.8,314.7L255.6,315.6L259.5,317.2L260.6,318.7L260.3,320.2L262.9,319.4L267.4,320.8L270.9,320.7L274.3,322.8L277.3,325.8L279.1,326.5L281.1,326.6L281.9,327.4L282.7,330.8L283.2,332.4L282.3,336.7L281.2,338.4L278.1,342.0L276.7,345.0L275.1,347.3L274.5,347.3L274.0,349.2L274.3,354.1L273.9,358.2L273.8,359.9L273.1,360.9L272.9,364.4L270.8,367.8L270.6,370.6L268.9,371.7L268.4,373.2L266.0,373.2L262.5,374.2L261.0,375.4L258.6,376.2L256.1,378.3L254.4,380.9L254.3,382.8L254.8,384.3L254.7,386.9L254.4,388.2L253.0,389.6L251.1,394.2L249.5,396.3L248.2,397.5L247.6,400.0L246.4,401.5L245.6,400.0L246.3,398.8L244.8,397.0L242.8,395.5L240.3,393.9L239.5,393.9L236.9,391.9Z"/>
<path fill="#8856a7" d="M406.1,194.5L407.4,195.1L407.6,196.2L409.0,196.9L409.5,196.4L410.1,196.7L409.6,197.1L410.1,197.6L409.6,198.2L409.9,199.1L411.0,200.2L410.3,201.0L410.1,201.8L410.3,202.2L410.0,202.5L409.0,202.6L408.3,202.7L408.2,202.5L408.5,202.2L408.7,201.6L408.3,201.6L407.9,201.1L407.5,201.0L407.2,200.6L406.8,200.4L406.5,200.1L406.1,200.2L405.9,201.1L405.4,201.2L405.6,201.0L404.7,200.5L404.0,200.2L403.7,199.9L403.1,199.4L403.6,199.3L403.8,198.1L402.7,197.1L403.1,196.0L402.4,196.0L403.0,195.0L402.3,194.3L401.7,193.3L403.3,192.6L404.5,192.7L405.7,193.7Z"/>
<path fill="#b3cde3" d="M409.1,188.2L409.9,187.7L411.2,187.9L412.5,188.0L413.6,188.6L414.2,188.2L415.7,187.9L416.1,187.4L417.0,187.4L417.6,187.6L418.3,188.4L419.1,189.4L420.5,191.0L420.7,192.1L420.7,193.2L421.2,194.3L422.2,194.8L423.1,194.4L424.1,194.9L424.3,195.5L423.3,196.1L422.7,195.8L422.5,198.9L421.2,198.7L419.6,197.7L417.2,198.3L416.3,199.0L413.2,198.8L411.6,198.4L410.8,198.6L410.1,197.6L409.6,197.1L410.1,196.7L409.5,196.4L409.0,196.9L407.6,196.2L407.4,195.1L406.1,194.5L405.7,193.7L404.5,192.7L406.1,192.2L407.2,190.5L408.0,188.8Z"/>
<path fill="#8c96c6" d="M414.8,136.1L416.3,135.4L419.5,136.7L424.2,137.2L431.4,139.7L433.1,140.8L433.7,142.3L432.2,143.5L429.6,144.1L421.4,142.4L420.2,142.7L423.4,144.3L423.9,145.4L424.6,147.8L427.1,148.5L428.7,149.1L428.6,147.9L427.2,146.9L428.1,146.1L432.7,147.5L434.1,146.9L432.3,145.2L435.6,143.0L437.3,143.2L439.2,143.9L439.6,142.4L437.7,141.0L438.0,139.7L436.2,138.3L441.3,139.0L442.7,140.3L440.7,140.6L441.2,141.8L442.8,142.6L445.3,142.1L445.1,140.7L448.2,139.6L453.3,137.7L454.6,137.8L453.5,139.1L455.7,139.4L456.6,138.6L459.7,138.5L461.8,137.6L464.4,139.0L465.5,137.5L463.1,136.2L463.6,135.5L468.8,136.2L471.5,136.9L479.1,139.4L479.5,138.2L477.1,137.1L476.8,136.6L474.7,136.4L474.6,135.3L472.6,133.6L472.2,132.9L473.9,131.0L473.7,129.1L474.6,128.6L479.2,129.2L480.4,130.4L480.1,132.1L481.5,132.8L483.1,134.3L484.7,137.3L487.4,138.7L487.6,140.2L486.2,143.4L488.3,143.7L488.5,142.9L490.1,142.3L489.9,141.2L490.7,140.1L488.9,138.9L488.7,137.4L486.7,137.2L485.5,136.0L485.4,133.8L482.0,132.0L483.9,130.6L482.4,129.1L483.2,129.0L484.9,130.2L485.8,132.3L487.8,132.7L485.9,131.1L488.0,130.3L491.3,130.2L495.2,131.4L492.4,129.6L490.4,127.4L492.8,127.0L496.7,127.0L499.8,126.8L497.6,125.7L498.1,124.4L499.9,124.3L501.8,123.3L505.6,123.0L505.5,122.5L509.3,122.3L511.1,122.7L513.3,121.7L516.1,121.7L515.5,120.9L515.8,120.0L518.3,119.2L521.7,119.8L520.3,120.3L524.1,120.6L525.8,121.6L526.6,121.1L531.0,121.2L535.8,122.1L538.0,122.9L539.0,123.9L538.0,124.5L535.3,125.7L534.9,126.3L537.1,126.6L540.1,127.1L541.0,126.7L543.4,128.0L543.5,127.5L545.6,127.2L551.1,127.5L552.7,128.5L559.7,128.8L557.8,127.2L561.6,127.6L564.1,127.5L568.1,128.6L570.6,130.0L570.8,130.9L574.9,132.6L578.5,133.5L577.3,131.2L581.1,132.2L583.1,131.6L587.2,132.2L587.6,131.6L590.6,131.9L586.8,130.0L587.6,129.0L604.1,130.4L607.3,131.7L614.0,133.3L620.0,132.9L623.7,133.3L626.5,134.2L628.6,135.8L631.5,136.4L633.1,136.0L636.0,135.9L639.8,136.3L642.6,136.1L648.4,138.1L649.4,137.3L645.9,135.9L645.2,135.0L651.4,135.6L654.6,135.4L661.1,136.5L665.0,137.5L678.4,146.4L677.7,147.5L675.1,147.3L678.4,148.5L682.2,150.5L683.9,151.1L685.4,152.0L685.8,152.7L681.8,152.2L679.1,153.9L677.9,154.2L677.2,155.9L676.4,157.3L677.1,158.4L672.4,156.8L669.9,158.7L668.0,157.8L667.5,158.8L664.6,158.5L665.9,160.0L666.3,162.4L667.5,163.4L670.2,163.9L674.0,167.5L672.3,167.6L673.6,169.6L675.6,170.7L673.5,172.0L675.7,174.8L673.4,175.4L675.2,177.9L674.6,180.3L672.2,178.6L667.9,174.9L661.4,169.4L658.7,166.0L658.8,164.5L657.7,163.4L660.0,162.8L659.9,159.8L660.2,157.3L661.2,155.4L658.5,152.1L656.6,152.3L657.9,154.2L656.4,156.9L651.4,153.9L647.7,154.7L647.7,158.7L650.9,160.2L647.4,160.8L644.8,161.1L643.1,159.3L639.8,159.0L638.7,160.2L632.6,159.7L627.3,160.5L625.9,165.2L623.8,171.0L627.1,171.3L629.4,172.9L631.8,173.4L632.0,172.2L634.2,172.3L639.5,175.1L641.4,177.2L641.9,179.7L644.2,182.7L646.3,186.8L645.9,190.5L646.4,192.2L645.6,195.2L644.8,198.2L644.4,199.7L642.6,201.2L641.3,201.3L639.2,200.0L637.5,201.9L637.7,202.8L637.1,202.3L636.3,201.0L637.4,200.9L635.8,197.9L633.9,195.7L635.1,194.8L637.9,195.2L637.6,192.7L636.5,189.9L636.6,189.0L636.1,186.7L633.3,187.5L632.2,188.5L629.1,188.5L626.7,186.1L623.0,184.3L619.0,183.4L616.4,181.0L614.6,179.4L613.1,178.3L609.9,175.8L607.5,174.9L604.0,174.1L601.5,174.2L599.4,174.7L598.7,175.9L600.2,176.5L601.2,177.9L600.7,178.7L600.8,181.4L601.5,182.5L599.8,184.1L596.7,183.1L594.5,183.3L592.9,182.5L591.5,182.2L589.7,184.0L587.3,184.4L585.8,185.0L583.1,184.6L581.2,184.7L579.2,183.4L576.6,182.2L574.3,181.8L572.0,182.1L570.4,182.6L567.0,181.5L565.5,179.7L562.7,179.0L560.8,178.7L557.9,177.7L557.4,180.3L559.0,181.8L558.1,183.5L554.8,182.9L552.8,182.8L550.8,181.6L548.7,181.6L546.6,180.8L544.2,182.0L541.4,184.2L539.5,184.6L538.8,184.8L537.0,183.3L534.6,183.6L533.3,182.5L531.6,182.1L530.0,180.6L528.6,180.1L526.1,180.8L522.7,179.3L522.2,180.7L514.8,174.3L511.4,172.4L511.7,171.6L508.0,173.9L506.2,174.1L505.7,172.7L502.8,171.9L501.1,172.5L499.3,169.9L495.6,169.4L494.3,170.4L489.9,171.3L489.2,171.9L482.3,172.8L481.7,173.6L483.8,175.3L482.2,176.0L482.8,176.7L481.3,177.9L485.2,179.6L485.1,180.8L482.3,180.7L481.9,181.4L478.9,180.2L475.8,180.2L474.1,181.3L471.4,180.2L466.5,178.5L463.4,178.6L460.1,181.3L460.4,183.2L457.9,181.7L457.0,184.5L457.7,185.0L457.1,186.9L459.2,188.6L460.7,188.6L462.4,190.3L462.5,191.6L463.6,192.0L463.1,193.5L461.2,194.0L459.7,196.6L462.2,199.1L462.3,200.8L465.3,203.8L464.3,204.9L464.1,205.6L463.1,205.4L461.3,203.8L460.7,203.7L459.3,203.1L458.4,202.1L456.3,201.5L455.1,201.9L454.7,201.4L451.6,200.2L448.4,199.8L446.6,199.3L446.4,199.6L443.3,197.5L440.8,196.5L438.7,195.0L440.1,194.6L441.4,192.4L440.1,191.4L442.9,190.4L442.8,189.8L441.0,190.2L440.9,189.1L441.8,188.4L443.7,188.2L443.9,187.3L443.1,185.9L443.6,184.6L443.5,183.8L440.3,183.0L439.1,183.0L437.7,181.9L436.2,182.3L433.5,181.4L433.5,180.9L432.5,179.8L430.9,179.7L430.6,178.9L431.0,178.4L429.4,176.9L427.4,177.2L426.8,177.1L426.4,177.6L425.7,177.5L424.9,175.9L424.3,175.1L424.6,174.9L426.2,175.0L426.8,174.4L426.1,173.7L424.7,173.3L424.8,172.9L423.9,172.4L422.4,170.8L422.6,170.1L422.2,169.0L420.2,168.4L419.3,168.7L418.9,168.1L416.8,167.4L415.9,166.0L415.5,164.8L414.5,164.3L415.1,163.5L414.1,161.2L415.2,159.8L414.8,159.4L416.6,158.1L414.5,157.0L417.7,153.9L419.1,152.5L419.5,151.3L416.5,149.8L416.8,148.2L414.8,146.5L415.5,144.5L412.9,142.0L414.0,140.3L411.1,138.8L410.9,137.2L412.2,137.0ZM407.0,172.0L403.5,172.0L401.1,171.7L401.4,170.6L403.9,169.9L406.0,170.3L406.9,170.7L406.8,171.4ZM465.7,120.7L467.4,121.5L466.9,122.1L462.3,123.1L458.3,124.1L454.7,126.0L453.6,128.0L452.2,130.1L453.5,131.8L457.6,133.6L456.7,133.8L451.2,133.5L450.2,132.5L447.0,132.0L446.2,130.8L447.6,130.4L447.0,129.2L449.2,127.4L447.6,127.2L450.3,125.4L449.3,124.4L452.1,123.4L456.2,122.1L461.0,121.7L463.0,121.0ZM497.7,112.8L501.6,113.6L507.1,115.3L508.9,117.0L506.0,117.2L501.3,116.7L498.0,115.9L495.3,114.7L492.9,114.3L495.2,113.2ZM512.1,116.2L517.2,117.3L517.8,118.0L510.5,118.8L510.0,116.3L510.9,116.1ZM435.6,114.0L433.9,114.2L432.7,114.3L432.7,114.6L431.2,114.9L429.4,114.5L429.9,114.0L426.7,113.9L429.2,113.6L431.4,113.6L432.0,114.1L432.5,113.6L433.6,113.4L436.0,113.7ZM574.9,122.3L579.1,122.4L586.4,123.5L587.6,125.0L581.8,124.9L580.0,125.4L574.9,124.1L573.5,122.7ZM588.6,123.6L592.0,123.9L596.8,124.4L596.3,125.2L593.5,125.0L589.3,124.3ZM587.1,126.9L590.5,127.7L591.6,128.3L589.2,128.3L585.6,128.1L585.1,128.0L585.4,127.1ZM655.8,131.9L658.3,133.4L656.7,133.5L655.3,132.8ZM70.3,131.9L73.3,132.4L72.7,132.7L70.1,133.2L67.7,133.4ZM649.0,180.9L654.6,185.4L651.0,184.6L652.5,188.3L656.4,190.9L657.6,192.7L654.9,191.1L655.0,193.1L653.1,191.0L651.5,188.5L649.3,185.7L648.3,183.8L645.7,180.4L642.4,177.9L639.6,174.5L640.4,173.4L638.6,172.2L639.1,171.9L641.2,173.5L644.0,175.9L646.1,178.4ZM47.6,146.4L61.1,137.5L62.6,139.1L63.7,141.4L61.5,142.8L61.9,143.3L63.9,141.7L68.0,142.0L68.5,144.2L65.3,145.2L62.2,145.4L59.0,147.6L57.6,148.1L56.1,148.1L55.9,147.2L54.5,146.6L55.5,145.6L54.3,145.2L51.8,145.5L52.1,144.7L53.6,143.9L50.8,144.4L50.0,145.5Z"/>
<path fill="#b3cde3" d="M351.8,219.6L353.1,220.7L355.1,220.5L357.4,221.1L358.3,221.1L359.1,222.8L359.3,224.4L360.0,227.2L360.6,227.7L360.2,228.7L357.3,229.2L356.3,230.2L355.0,230.4L354.9,232.3L352.3,233.3L351.4,234.7L349.6,235.4L347.4,235.8L343.8,237.7L343.7,240.8L333.7,240.8L334.9,239.8L337.0,239.5L338.8,237.7L339.9,237.0L341.9,234.8L341.4,231.6L342.3,229.3L342.6,228.0L344.1,226.2L346.3,225.0L348.0,223.9L349.5,221.2L350.2,219.6Z"/>
<path fill="#8856a7" d="M446.3,255.6L437.3,255.6L428.5,255.6L419.5,255.6L419.0,246.0L418.5,236.6L417.7,234.6L418.2,232.9L417.7,231.8L418.4,230.5L421.4,230.5L423.6,231.2L425.8,232.0L426.9,232.4L428.5,231.5L429.3,230.8L431.3,230.6L432.9,230.9L433.6,232.2L434.0,231.4L435.8,232.0L437.6,232.1L438.6,231.5L440.5,236.0L439.9,237.0L439.6,239.0L439.1,240.4L438.6,240.8L437.8,240.0L436.7,238.8L434.8,235.1L434.6,235.3L435.8,238.0L437.4,240.7L439.3,244.8L440.3,246.2L441.1,247.7L443.3,250.5L442.9,251.0L443.1,252.7L445.8,255.1Z"/>
<path fill="#8856a7" d="M324.8,277.6L323.9,275.6L322.8,274.6L323.8,274.1L324.9,272.3L325.5,270.9L326.3,270.1L327.4,270.3L328.5,269.7L329.8,269.7L330.9,270.5L332.4,271.2L333.8,273.1L335.2,274.9L335.3,276.5L335.7,278.0L336.6,278.8L336.8,279.8L336.7,280.6L336.3,280.7L335.1,280.5L334.9,280.8L334.4,280.9L332.8,280.2L331.7,280.2L327.4,280.1L326.8,280.4L326.0,280.3L324.8,280.8L324.5,278.7L326.6,278.8L327.1,278.4L327.5,278.4L328.4,277.8L329.4,278.4L330.4,278.4L331.4,277.8L330.9,277.1L330.1,277.5L329.4,277.5L328.6,276.8L327.8,276.9L327.3,277.5Z"/>
<path fill="#8c96c6" d="M369.2,296.8L367.3,297.1L366.8,295.3L366.8,289.3L366.4,288.7L366.3,287.4L365.5,286.5L364.8,285.8L365.1,284.4L365.9,284.1L366.4,282.9L367.5,282.7L368.0,281.9L368.7,281.2L369.6,281.1L371.3,282.6L371.2,283.5L371.7,285.1L371.3,286.1L371.5,286.8L370.4,288.5L369.7,289.2L369.3,290.9L369.4,292.6Z"/>
<path fill="#8856a7" d="M369.2,296.8L369.4,292.6L369.3,290.9L369.7,289.2L370.4,288.5L371.5,286.8L371.3,286.1L371.7,285.1L371.2,283.5L371.3,282.6L371.5,280.3L372.1,279.2L372.4,277.8L373.0,277.2L375.5,276.9L377.8,277.9L378.6,278.8L379.8,278.9L380.9,278.2L383.7,279.6L384.8,279.5L386.2,278.4L387.5,278.5L388.2,278.1L389.4,278.3L391.2,279.0L392.9,277.6L393.5,277.7L395.1,280.5L395.5,280.5L396.4,281.5L396.2,282.0L396.1,282.9L394.2,284.9L393.6,286.6L393.3,287.9L392.8,288.5L392.3,290.3L391.1,291.4L390.8,292.7L390.3,293.8L390.1,294.9L388.5,295.8L387.2,294.7L386.3,294.7L384.9,296.3L384.3,296.3L383.2,298.8L382.6,300.7L380.2,301.6L379.3,301.5L378.5,302.1L376.6,302.0L375.4,300.4L374.6,298.5L373.0,296.7L371.2,296.8Z"/>
<path fill="#8856a7" d="M396.2,279.5L397.1,281.2L397.3,282.9L397.3,284.7L398.5,287.0L397.3,287.0L396.6,287.2L395.6,286.9L395.1,288.2L396.4,289.7L397.4,290.1L397.8,291.2L398.5,293.0L398.2,293.7L397.0,296.4L396.5,296.8L396.3,298.9L396.6,300.0L396.4,300.8L397.5,302.1L397.7,303.1L398.5,304.4L399.6,305.3L399.7,306.5L399.9,307.2L399.8,308.6L398.0,308.0L396.1,307.3L393.2,307.2L392.9,307.1L391.5,307.4L390.1,307.1L389.0,307.2L385.3,307.2L385.6,305.1L384.7,303.4L383.7,302.9L383.2,301.8L382.6,301.4L382.6,300.7L383.2,298.8L384.3,296.3L384.9,296.3L386.3,294.7L387.2,294.7L388.5,295.8L390.1,294.9L390.3,293.8L390.8,292.7L391.1,291.4L392.3,290.3L392.8,288.5L393.3,287.9L393.6,286.6L394.2,284.9L396.1,282.9L396.2,282.0L396.4,281.5L395.5,280.5L395.6,279.7Z"/>
<path fill="#8c96c6" d="M434.1,304.0L434.0,307.0L434.9,307.4L434.2,308.3L433.3,309.0L432.4,310.4L431.9,311.6L431.8,313.7L431.3,314.7L431.2,316.7L430.6,317.4L430.5,319.0L430.2,319.1L429.9,320.6L430.5,321.8L430.6,324.9L431.0,327.3L430.7,328.7L431.2,330.2L432.5,331.7L433.7,335.0L432.8,334.7L429.7,335.2L429.1,335.5L428.4,337.1L428.9,338.3L428.4,341.4L428.0,344.0L428.7,344.5L430.2,345.5L430.9,345.0L431.0,347.8L429.2,347.8L428.3,346.4L427.5,345.3L425.8,344.9L425.3,343.5L423.9,344.3L422.0,344.0L421.3,342.8L419.8,342.6L418.8,342.6L418.7,341.8L417.9,341.7L416.8,341.6L415.4,342.0L414.4,341.9L413.8,342.1L414.0,339.0L413.3,338.1L413.1,336.5L413.5,334.9L413.0,333.9L413.0,332.2L410.2,332.2L410.4,331.3L409.2,331.3L409.1,331.8L407.7,331.9L407.1,333.4L406.8,334.1L405.5,333.7L404.7,334.1L403.2,334.3L402.3,332.9L401.8,332.0L401.2,330.5L400.6,328.5L393.8,328.5L393.0,328.8L392.4,328.8L391.4,329.1L391.1,328.3L391.7,328.0L391.7,326.9L392.1,326.2L393.0,325.7L393.6,325.9L394.4,324.9L395.6,324.9L395.8,325.7L396.6,326.2L398.0,324.5L399.3,323.2L399.9,322.4L399.8,320.2L400.9,317.7L401.9,316.4L403.4,315.1L403.7,314.2L403.8,313.3L404.1,312.4L404.0,310.9L404.3,308.6L404.7,306.9L405.4,305.6L405.5,304.0L405.7,302.2L406.6,300.8L407.9,300.0L409.8,300.9L411.2,301.8L412.9,302.1L414.7,302.6L415.3,301.0L415.6,300.8L416.7,301.1L419.2,299.8L420.2,300.3L420.9,300.3L421.2,299.6L422.1,299.4L423.8,299.7L425.3,299.7L426.1,299.5L427.5,301.6L428.5,301.9L429.1,301.5L430.2,301.7L431.5,301.1L432.0,302.2Z"/>
<path fill="#8c96c6" d="M436.5,315.8L434.0,315.8L433.2,316.1L431.8,316.9L431.2,316.7L431.3,314.7L431.8,313.7L431.9,311.6L432.4,310.4L433.3,309.0L434.2,308.3L434.9,307.4L434.0,307.0L434.1,304.0L435.0,303.3L436.5,303.8L438.4,303.2L440.0,303.2L441.4,302.0L442.5,303.8L442.8,305.2L443.8,308.2L443.0,310.1L441.9,311.8L441.2,312.9L441.2,315.6Z"/>
<path fill="#edf8fb" d="M441.2,315.6L441.6,315.9L449.9,321.3L450.1,322.8L453.3,325.4L452.2,328.6L452.3,330.1L453.8,331.0L453.8,331.7L453.1,333.3L453.3,334.1L453.1,335.4L453.9,337.0L454.7,339.6L455.6,340.2L453.7,341.7L451.1,342.7L449.8,342.6L448.9,343.4L447.3,343.5L446.7,343.8L444.0,343.1L442.3,343.3L441.7,339.7L441.0,338.5L440.5,337.8L438.3,337.3L437.0,336.5L435.5,336.1L434.6,335.6L433.7,335.0L432.5,331.7L431.2,330.2L430.7,328.7L431.0,327.3L430.6,324.9L431.6,324.8L432.4,323.9L433.3,322.5L433.9,321.9L433.9,321.1L433.4,320.5L433.3,319.5L433.9,319.1L434.1,317.6L433.2,316.1L434.0,315.8L436.5,315.8Z"/>
<path fill="#edf8fb" d="M449.6,274.0L451.0,275.2L452.3,274.6L452.9,275.1L454.5,275.2L456.5,276.2L457.1,277.1L458.2,278.0L459.2,279.5L460.0,280.3L459.2,281.5L458.5,282.7L458.7,283.4L458.8,284.2L460.1,284.3L460.6,284.1L461.1,284.6L460.7,285.5L461.6,286.9L462.5,288.2L463.4,289.1L471.0,292.2L472.9,292.2L466.6,300.1L463.6,300.2L461.6,302.0L460.1,302.1L459.5,302.9L457.9,302.9L456.9,302.0L454.8,303.1L454.2,304.2L452.6,304.0L452.1,303.7L451.6,303.8L450.9,303.7L447.9,301.5L446.3,301.5L445.5,300.6L445.5,299.2L444.3,298.7L442.9,295.9L441.8,295.3L441.4,294.2L440.2,293.0L438.8,292.8L439.5,291.3L440.8,291.2L441.1,290.4L441.0,288.1L441.6,285.3L442.7,284.6L442.9,283.5L443.8,281.5L445.1,280.2L446.0,277.7L446.3,275.4L448.9,276.0Z"/>
<path fill="#8c96c6" d="M399.4,387.9L400.5,386.6L401.3,387.4L401.7,388.4L402.7,388.7L404.0,389.2L405.2,388.9L407.3,387.6L407.7,378.0L408.3,378.4L409.5,380.8L409.2,382.4L409.7,383.3L411.3,383.1L412.5,381.9L413.6,381.1L414.2,379.9L415.3,379.3L416.2,379.6L417.3,380.3L419.1,380.4L420.5,379.8L420.8,379.0L421.3,377.8L422.5,377.6L423.2,376.6L424.1,374.8L426.2,372.9L429.4,370.9L430.4,371.0L431.4,371.4L432.2,371.1L433.4,371.4L434.3,375.1L434.8,376.9L434.2,379.8L434.3,380.8L433.2,380.3L432.6,380.5L432.3,381.2L431.6,382.2L431.6,383.1L432.8,384.6L434.2,384.3L434.7,383.1L436.4,383.1L435.7,385.0L435.3,387.2L434.6,388.4L433.0,389.7L432.5,390.1L431.5,391.4L430.7,392.7L429.3,394.6L426.6,397.3L424.9,398.9L423.1,400.1L420.8,401.1L419.7,401.2L419.3,402.0L418.0,401.6L416.9,402.1L414.6,401.6L413.2,401.9L412.3,401.7L410.0,402.8L408.1,403.2L406.7,404.2L405.7,404.3L404.8,403.3L404.1,403.3L403.2,402.1L403.1,402.5L402.9,401.8L403.0,400.2L402.4,398.5L403.1,398.0L403.1,396.0L401.8,393.6L400.8,391.3ZM427.4,388.9L428.1,389.7L427.3,391.0L426.9,391.8L425.6,392.2L425.2,393.1L424.3,393.3L422.8,391.3L424.1,389.7L425.4,388.6L426.5,388.1Z"/>
<path fill="#b3cde3" d="M440.9,205.1L444.1,206.1L446.5,205.7L448.4,205.9L450.6,204.5L452.9,204.4L455.1,205.7L455.7,206.6L455.7,207.9L457.4,208.5L458.4,209.3L457.0,210.0L458.2,213.0L458.0,213.8L459.5,215.9L458.5,216.4L457.6,215.7L455.1,215.3L454.2,215.8L451.8,216.2L450.7,216.1L448.3,217.1L446.6,217.1L445.3,216.6L443.1,217.3L442.3,216.8L442.4,218.3L441.9,218.9L441.4,219.4L440.4,218.3L441.1,217.3L439.8,217.5L437.9,216.9L436.6,218.4L433.4,218.7L431.5,217.3L429.1,217.2L428.7,218.3L427.3,218.6L425.0,217.2L422.7,217.2L421.2,214.7L419.5,213.2L420.3,211.2L418.8,209.9L420.9,207.4L424.1,207.3L424.8,205.4L428.9,205.7L431.2,204.0L433.5,203.3L437.0,203.2ZM420.6,206.7L419.0,208.1L418.2,206.9L418.2,206.4L418.6,206.1L419.1,204.5L418.0,203.8L420.1,203.0L421.9,203.3L422.3,204.3L424.2,205.2L423.9,205.8L421.4,205.9Z"/>
<path fill="#8856a7" d="M441.1,228.4L441.3,230.0L441.0,230.8L440.0,231.1L440.0,230.4L440.6,230.1L440.0,229.8L440.2,228.0ZM438.6,231.5L439.1,230.6L439.0,230.4L438.5,231.2Z"/>
<path fill="#8c96c6" d="M449.2,229.0L447.9,225.8L452.4,223.1L452.8,219.9L452.3,218.0L453.4,217.4L454.2,215.8L455.1,215.3L457.6,215.7L458.5,216.4L459.5,215.9L461.4,219.0L462.9,219.8L463.3,221.3L462.4,222.2L462.2,224.3L464.1,226.8L466.9,228.2L468.4,230.2L468.3,232.1L469.0,232.1L469.2,233.5L470.6,234.8L469.2,234.7L467.7,234.5L466.4,237.0L462.3,236.8L455.4,231.5L451.9,229.7Z"/>
<path fill="#b3cde3" d="M470.6,234.8L469.2,233.5L469.0,232.1L468.3,232.1L468.4,230.2L466.9,228.2L464.1,226.8L462.2,224.3L462.4,222.2L463.3,221.3L462.9,219.8L461.4,219.0L459.5,215.9L458.0,213.8L458.2,213.0L457.0,210.0L458.4,209.3L458.9,210.3L460.2,211.5L461.7,211.8L462.5,211.7L464.6,209.8L465.4,209.6L466.2,210.4L465.7,211.7L467.3,213.0L467.8,212.9L468.8,214.8L471.0,215.4L472.7,216.7L475.8,217.1L479.1,216.4L479.2,215.8L481.0,215.3L482.2,213.8L483.6,213.9L484.5,213.4L486.0,213.7L488.7,215.0L490.5,215.3L493.5,217.6L495.1,217.7L495.7,219.9L495.5,223.1L495.3,225.0L496.3,225.4L495.7,226.9L496.8,229.0L497.3,230.6L499.0,231.0L499.5,232.7L497.9,235.1L499.2,236.5L500.3,238.1L502.6,239.2L503.0,241.5L504.1,241.9L504.5,243.1L501.4,244.5L501.0,247.5L496.7,246.7L494.2,246.1L491.6,245.8L490.3,242.6L489.1,242.1L487.5,242.6L485.4,243.9L482.5,243.0L480.0,241.0L477.8,240.2L476.0,237.8L473.9,234.3L472.8,234.7L471.3,233.8Z"/>
<path fill="#8856a7" d="M525.0,216.0L526.9,217.2L528.0,219.2L531.9,220.3L530.4,222.5L528.1,222.9L524.6,222.2L523.8,223.4L525.1,225.7L526.3,227.4L528.4,228.7L526.8,230.2L527.3,232.1L525.6,234.7L524.8,237.4L522.9,240.1L520.3,239.9L518.3,242.7L519.9,243.8L520.5,245.9L521.9,247.2L522.7,249.4L517.7,249.4L516.4,251.2L514.7,250.5L513.8,248.6L511.8,246.6L507.7,247.1L504.1,247.2L501.0,247.5L501.4,244.5L504.5,243.1L504.1,241.9L503.0,241.5L502.6,239.2L500.3,238.1L499.2,236.5L497.9,235.1L501.8,236.4L504.0,236.0L505.3,236.4L505.7,235.8L507.3,236.0L510.0,234.9L509.6,232.7L510.6,231.3L512.2,231.3L512.3,230.5L513.9,230.2L514.8,230.4L515.5,229.7L515.1,228.1L515.7,226.5L516.9,225.9L515.7,224.1L517.7,224.2L518.1,223.3L517.8,222.3L518.6,221.2L518.1,219.9L517.3,218.8L518.2,217.6L520.4,217.1L522.8,216.8L523.8,216.3Z"/>
<path fill="#8c96c6" d="M531.9,220.3L535.0,223.4L535.4,225.5L536.6,226.8L536.8,228.2L535.2,227.8L536.5,230.7L539.0,232.4L542.5,234.2L541.4,235.4L541.0,237.8L543.3,238.8L545.7,240.1L548.9,241.6L552.0,241.9L553.5,243.2L555.3,243.5L558.1,244.1L560.0,244.1L560.0,243.0L559.4,241.3L559.3,240.2L560.6,239.7L561.2,241.7L561.4,242.2L563.6,243.2L564.9,242.8L566.8,243.0L568.6,242.9L568.4,241.3L567.4,240.5L569.1,240.2L570.7,238.2L572.9,236.5L574.9,237.2L576.2,236.1L577.6,237.7L577.1,238.8L579.6,239.2L580.0,240.2L579.3,240.7L579.9,242.3L578.2,241.8L575.7,243.6L576.1,245.1L575.2,247.3L575.3,248.6L574.7,250.7L572.9,250.1L573.2,252.9L572.8,253.8L573.2,254.9L572.2,255.5L570.4,251.3L569.8,251.4L569.7,253.0L568.2,251.7L568.7,250.2L569.7,250.0L570.3,247.8L568.9,247.3L566.9,247.4L564.7,247.0L564.1,245.2L563.1,245.1L561.1,243.9L560.6,245.7L562.5,247.1L561.2,248.1L560.9,249.0L562.4,249.8L562.3,251.3L563.3,253.3L564.0,255.4L563.8,256.4L562.2,256.4L559.5,256.9L559.9,258.9L558.9,260.4L555.9,262.2L553.7,265.3L552.2,266.9L550.1,268.6L550.3,269.8L549.2,270.5L547.2,271.4L546.2,271.5L545.7,273.5L546.5,276.9L546.8,279.1L546.0,281.6L546.3,286.0L545.1,286.2L544.2,288.2L544.9,289.0L542.9,289.8L542.2,291.6L541.3,292.3L539.0,289.9L537.7,286.2L536.7,283.6L535.8,282.3L534.4,279.8L533.6,276.5L533.1,274.9L530.7,271.3L529.2,266.2L528.2,262.9L527.9,259.7L527.2,257.3L524.0,258.8L522.4,258.5L519.1,255.4L520.1,254.4L519.3,253.4L516.4,251.2L517.7,249.4L522.7,249.4L521.9,247.2L520.5,245.9L519.9,243.8L518.3,242.7L520.3,239.9L522.9,240.1L524.8,237.4L525.6,234.7L527.3,232.1L526.8,230.2L528.4,228.7L526.3,227.4L525.1,225.7L523.8,223.4L524.6,222.2L528.1,222.9L530.4,222.5Z"/>
<path fill="#8c96c6" d="M559.3,240.2L559.4,241.3L560.0,243.0L560.0,244.1L558.1,244.1L555.3,243.5L553.5,243.2L552.0,241.9L548.9,241.6L545.7,240.1L543.3,238.8L541.0,237.8L541.4,235.4L542.5,234.2L543.3,233.6L545.2,234.3L547.8,236.1L549.2,236.4L550.2,237.7L552.0,238.2L554.0,239.4L556.7,240.0Z"/>
<path fill="#8856a7" d="M572.2,255.5L572.4,257.4L571.6,256.9L572.0,259.1L571.2,257.7L570.9,256.4L570.2,255.1L569.1,253.6L567.0,253.5L567.4,254.6L566.8,256.0L565.8,255.5L565.6,256.0L564.9,255.7L564.0,255.4L563.3,253.3L562.3,251.3L562.4,249.8L560.9,249.0L561.2,248.1L562.5,247.1L560.6,245.7L561.1,243.9L563.1,245.1L564.1,245.2L564.7,247.0L566.9,247.4L568.9,247.3L570.3,247.8L569.7,250.0L568.7,250.2L568.2,251.7L569.7,253.0L569.8,251.4L570.4,251.3Z"/>
<path fill="#8c96c6" d="M598.0,281.3L595.9,280.1L593.9,280.1L594.0,278.1L592.0,278.1L592.1,280.9L591.2,284.8L590.6,287.1L590.9,289.0L592.4,289.1L593.5,291.4L594.1,293.7L595.4,295.2L596.8,295.5L598.1,296.9L597.4,297.9L595.9,298.3L595.7,296.9L593.7,295.8L593.4,296.2L592.4,295.2L591.9,293.9L590.6,292.5L589.4,291.2L589.1,292.8L588.6,291.3L588.8,289.7L589.3,287.2L590.2,284.5L591.2,282.0L590.1,279.7L590.0,278.4L589.6,277.0L587.9,274.9L587.2,273.6L587.9,273.1L588.4,270.8L587.3,269.1L585.6,267.2L584.2,264.9L585.1,264.4L585.7,261.6L587.3,261.5L588.4,260.3L589.6,259.7L590.7,260.5L591.1,262.1L592.6,262.2L592.5,265.0L592.9,267.3L595.1,265.8L595.8,266.2L597.1,266.2L597.5,265.2L599.2,265.4L601.3,267.5L601.8,270.1L603.9,272.4L604.1,274.6L603.5,275.8L601.3,275.4L598.4,275.9L597.2,278.1Z"/>
<path fill="#b3cde3" d="M607.1,256.8L604.5,259.0L603.0,261.5L602.7,263.3L604.9,266.1L607.5,269.5L609.8,271.1L611.5,273.2L613.1,278.0L613.3,282.6L611.6,284.3L609.1,286.0L607.4,288.2L604.7,290.6L603.7,289.0L604.3,287.2L602.4,285.7L604.3,284.7L606.7,284.5L605.6,282.9L609.2,280.9L609.2,277.7L608.4,276.0L608.5,273.4L607.7,271.5L605.8,269.7L604.0,267.4L601.6,264.3L598.7,262.7L599.2,261.8L600.5,261.1L599.3,258.8L596.5,258.8L595.1,256.4L593.5,254.4L594.6,253.7L596.4,253.8L598.5,253.4L600.2,252.1L601.4,253.0L603.6,253.5L603.5,255.0L604.7,256.1Z"/>
<path fill="#8c96c6" d="M603.7,316.0L604.1,317.8L604.8,319.3L606.5,319.5L607.6,321.2L606.9,324.4L606.6,328.5L604.1,328.5L602.2,326.3L599.3,324.2L598.4,322.6L596.7,320.5L595.6,318.5L594.0,314.9L591.9,312.7L591.2,310.4L590.4,308.4L588.2,306.7L587.0,304.5L585.2,303.0L582.7,300.1L582.4,298.8L583.9,298.9L587.5,299.4L589.6,302.0L591.5,303.8L592.8,304.9L595.0,307.7L597.4,307.7L599.4,309.5L600.7,311.7L602.5,312.9L601.6,315.0L602.9,315.9ZM612.9,330.9L617.3,331.2L617.9,330.1L622.1,331.3L622.8,333.0L626.3,333.5L629.0,335.0L626.3,336.0L623.8,335.0L621.7,335.1L619.4,334.9L617.3,334.4L614.7,333.4L613.0,333.1L612.0,333.5L607.9,332.4L607.5,331.3L605.5,331.1L607.1,328.6L609.9,328.7L611.7,329.8L612.7,329.9ZM634.6,302.3L633.4,304.7L635.2,307.2L634.8,308.4L637.4,310.8L634.7,311.1L634.0,312.9L634.0,315.2L631.8,317.0L631.7,319.6L630.6,323.6L630.3,322.7L627.6,323.9L626.8,322.3L625.2,322.2L624.1,321.3L621.3,322.3L620.5,321.0L619.0,321.1L617.1,320.8L616.8,317.3L615.7,316.6L614.6,314.4L614.3,312.1L614.5,309.6L615.8,307.9L616.3,309.6L617.9,311.1L619.4,310.6L620.8,310.8L622.2,309.5L623.3,309.2L625.5,310.0L627.3,309.4L628.4,305.8L629.3,304.9L629.9,301.9L632.6,301.9ZM651.8,309.4L650.0,312.0L648.3,312.5L646.0,312.0L642.2,312.2L640.2,312.5L639.8,314.5L641.9,316.8L643.2,315.7L647.5,314.8L647.3,316.0L646.2,315.6L645.2,317.1L643.2,318.1L645.2,321.5L644.8,322.4L646.7,325.4L646.6,327.1L645.3,327.9L644.5,327.0L645.7,324.8L643.4,325.8L642.9,325.1L643.2,324.1L641.6,322.6L641.9,320.0L640.3,320.8L640.4,323.9L640.3,327.6L638.8,328.0L637.9,327.2L638.6,324.8L638.4,322.3L637.4,322.3L636.8,320.5L637.8,318.8L638.2,316.7L639.4,312.8L639.8,311.7L641.8,309.7L643.6,310.5L646.5,310.8L649.2,310.7L651.4,308.9ZM688.0,320.0L687.6,328.5L687.0,337.0L685.1,334.9L682.9,334.3L682.2,335.1L679.3,335.2L680.5,333.0L682.0,332.3L681.6,329.5L680.6,327.3L676.3,325.1L674.4,324.8L671.0,322.4L670.3,323.7L669.4,323.9L668.9,323.0L669.0,321.8L667.3,320.5L669.8,319.6L671.4,319.6L671.3,318.9L667.9,318.9L667.0,317.4L664.9,316.9L664.0,315.6L667.1,315.0L668.3,314.1L672.0,315.2L672.3,316.2L672.9,320.4L675.2,322.0L677.2,319.2L679.9,317.6L682.0,317.6L683.9,318.5L685.6,319.5ZM650.2,336.4L650.3,336.9L650.3,337.7L648.6,339.7L646.6,340.3L646.4,339.9L646.7,339.1L647.8,337.5ZM640.1,339.9L639.1,340.0L636.3,338.2L638.4,337.6L639.6,338.5L640.3,339.2ZM641.9,335.5L643.4,335.3L645.6,334.3L645.1,335.8L641.6,336.5L638.6,336.2L638.6,335.2L640.5,334.7ZM634.8,335.0L636.3,334.8L636.8,335.9L634.1,336.5L632.5,336.8L631.2,336.8L632.1,335.3L633.4,335.3L634.1,334.3ZM659.8,310.2L659.7,312.5L658.5,312.2L658.1,313.8L659.1,315.2L658.4,315.5L657.5,313.9L656.8,310.5L657.2,308.4L658.0,307.5L658.2,308.9L659.5,309.1ZM663.7,321.2L664.5,323.2L662.6,322.2L660.7,321.9L659.4,322.1L657.8,322.0L658.4,320.6L661.2,320.5ZM656.3,322.2L655.3,323.1L653.8,322.6L653.4,321.5L655.7,321.3ZM672.7,327.4L673.1,328.2L673.1,329.4L671.8,331.2L671.7,329.2Z"/>
<path fill="#b3cde3" d="M611.8,265.5L609.8,264.7L609.3,262.5L610.3,261.3L612.6,260.6L613.9,260.6L614.6,261.6L613.8,262.8L613.5,264.3ZM619.0,183.4L623.0,184.3L626.7,186.1L629.1,188.5L632.2,188.5L633.3,187.5L636.1,186.7L636.6,189.0L636.5,189.9L637.6,192.7L637.9,195.2L635.1,194.8L633.9,195.7L635.8,197.9L637.4,200.9L636.3,201.0L637.1,202.3L634.9,200.8L634.9,202.3L632.3,203.4L633.4,204.7L631.5,204.6L630.1,203.8L629.7,205.7L628.1,207.1L627.2,208.7L624.6,209.5L623.7,210.7L621.7,211.4L622.3,210.2L621.3,209.2L622.1,207.4L620.3,206.1L618.9,207.0L617.4,208.8L616.9,210.5L614.9,210.6L614.4,211.8L616.3,213.6L618.3,214.0L618.8,215.2L620.9,215.9L622.5,214.1L624.8,215.1L626.3,215.2L627.2,216.5L624.5,217.3L624.1,218.7L622.5,220.0L622.2,221.8L625.1,223.2L626.9,225.8L629.2,228.2L631.4,230.2L632.0,232.2L630.9,232.9L631.9,234.3L633.5,235.1L633.8,237.2L633.8,239.3L632.7,239.5L631.8,242.4L630.9,245.8L629.6,248.9L627.0,251.4L624.2,253.5L621.8,253.8L620.6,255.0L619.7,254.2L618.6,255.5L615.7,256.8L613.4,257.2L613.0,259.9L611.8,260.1L610.9,258.2L611.3,257.2L608.1,256.3L607.1,256.8L604.7,256.1L603.5,255.0L603.6,253.5L601.4,253.0L600.2,252.1L598.5,253.4L596.4,253.8L594.6,253.7L593.5,254.4L592.3,254.8L593.1,257.8L591.9,257.7L591.6,257.1L591.4,256.0L589.9,256.7L588.8,256.3L587.0,255.3L587.3,253.1L585.8,252.6L584.9,250.2L582.5,250.6L582.3,247.5L584.0,245.3L583.6,243.2L583.1,241.2L582.0,240.5L580.9,239.0L579.6,239.2L577.1,238.8L577.6,237.7L576.2,236.1L574.9,237.2L572.9,236.5L570.7,238.2L569.1,240.2L567.4,240.5L566.2,239.8L565.1,239.7L563.3,239.1L562.3,239.8L561.2,241.7L560.6,239.7L559.3,240.2L556.7,240.0L554.0,239.4L552.0,238.2L550.2,237.7L549.2,236.4L547.8,236.1L545.2,234.3L543.3,233.6L542.5,234.2L539.0,232.4L536.5,230.7L535.2,227.8L536.8,228.2L536.6,226.8L535.4,225.5L535.0,223.4L531.9,220.3L528.0,219.2L526.9,217.2L525.0,216.0L524.4,215.3L523.6,213.8L523.4,212.8L521.9,212.2L521.3,212.4L520.1,210.0L520.5,209.4L520.0,208.8L521.7,207.6L523.0,207.1L525.3,207.4L525.6,205.8L528.2,205.4L528.6,204.4L531.4,203.0L531.5,202.4L530.8,201.0L532.0,200.3L528.4,195.8L532.1,194.8L532.9,194.2L532.5,189.6L536.9,190.5L537.5,189.3L536.5,186.7L538.1,186.5L538.8,184.8L539.5,184.6L540.9,186.4L543.2,187.7L546.5,188.7L548.9,190.8L549.4,193.8L550.7,194.9L553.3,195.3L556.3,195.7L559.5,197.3L560.9,197.6L562.9,199.9L564.8,201.5L567.1,201.4L571.7,202.0L574.3,201.6L576.6,202.0L580.4,203.6L582.9,203.6L584.2,204.4L586.1,203.0L589.0,202.1L592.1,202.0L594.1,201.1L594.9,199.7L595.9,198.8L595.1,198.0L593.9,197.0L594.1,195.3L595.4,195.6L597.8,196.1L599.1,194.7L601.7,193.7L602.2,192.0L603.3,191.3L606.0,191.0L607.8,191.3L607.5,190.3L604.6,188.6L602.4,187.7L601.5,188.7L599.2,188.3L598.2,188.6L597.1,187.6L597.0,185.0L596.7,183.1L599.8,184.1L601.5,182.5L600.8,181.4L600.7,178.7L601.2,177.9L600.2,176.5L598.7,175.9L599.4,174.7L601.5,174.2L604.0,174.1L607.5,174.9L609.9,175.8L613.1,178.3L614.6,179.4L616.4,181.0Z"/>
<path fill="#b3cde3" d="M539.5,184.6L541.4,184.2L544.2,182.0L546.6,180.8L548.7,181.6L550.8,181.6L552.8,182.8L554.8,182.9L558.1,183.5L559.0,181.8L557.4,180.3L557.9,177.7L560.8,178.7L562.7,179.0L565.5,179.7L567.0,181.5L570.4,182.6L572.0,182.1L574.3,181.8L576.6,182.2L579.2,183.4L581.2,184.7L583.1,184.6L585.8,185.0L587.3,184.4L589.7,184.0L591.5,182.2L592.9,182.5L594.5,183.3L596.7,183.1L597.0,185.0L597.1,187.6L598.2,188.6L599.2,188.3L601.5,188.7L602.4,187.7L604.6,188.6L607.5,190.3L607.8,191.3L606.0,191.0L603.3,191.3L602.2,192.0L601.7,193.7L599.1,194.7L597.8,196.1L595.4,195.6L594.1,195.3L593.9,197.0L595.1,198.0L595.9,198.8L594.9,199.7L594.1,201.1L592.1,202.0L589.0,202.1L586.1,203.0L584.2,204.4L582.9,203.6L580.4,203.6L576.6,202.0L574.3,201.6L571.7,202.0L567.1,201.4L564.8,201.5L562.9,199.9L560.9,197.6L559.5,197.3L556.3,195.7L553.3,195.3L550.7,194.9L549.4,193.8L548.9,190.8L546.5,188.7L543.2,187.7L540.9,186.4Z"/>
</g>
</g>

<g id="legend">
 <rect x="213.5" y="501.5" width="48" height="11" fill="url(#hatch)" stroke="#b3b3b3" stroke-width="0.7"/>
 <text class="lg" x="237.6" y="495.2" text-anchor="middle" style="letter-spacing:0.2px">No data</text>
 <g stroke="#9a9a9a" stroke-width="0.45">
  <rect x="281.5" y="501.5" width="71" height="11" fill="#edf8fb"/>
  <rect x="352.5" y="501.5" width="71" height="11" fill="#b3cde3"/>
  <rect x="423.5" y="501.5" width="71" height="11" fill="#8c96c6"/>
  <rect x="494.5" y="501.5" width="71" height="11" fill="#8856a7"/>
  <rect x="565.5" y="501.5" width="71" height="11" fill="#810f7c"/>
 </g>
 <g stroke="#cccccc" stroke-width="1">
  <line x1="281.5" y1="484.5" x2="281.5" y2="512.5"/>
  <line x1="423.5" y1="484.5" x2="423.5" y2="512.5"/>
  <line x1="565.5" y1="484.5" x2="565.5" y2="512.5"/>
  <line x1="237.5" y1="498" x2="237.5" y2="501.5"/>
  <line x1="352.5" y1="498" x2="352.5" y2="501.5"/>
  <line x1="494.5" y1="498" x2="494.5" y2="501.5"/>
  <line x1="636.5" y1="498" x2="636.5" y2="501.5"/>
 </g>
 <text class="lg" x="281.5" y="479.8" text-anchor="middle">0 µg/dL</text>
 <text class="lg" x="423.5" y="479.8" text-anchor="middle">5 µg/dL</text>
 <text class="lg" x="565.5" y="479.8" text-anchor="middle">10 µg/dL</text>
 <text class="lg" x="352.5" y="495.2" text-anchor="middle">2.5 µg/dL</text>
 <text class="lg" x="494.5" y="495.2" text-anchor="middle">7.5 µg/dL</text>
 <text class="lg" x="636.5" y="495.2" text-anchor="middle">12.5 µg/dL</text>
</g>

</svg>
<div id="title" class="abs">Mean lead concentrations in the blood of children</div>
<div class="abs sub" style="top:52px;letter-spacing:-0.053px">Mean lead concentrations in the blood of children aged 0 to 14 years old between 2010 and 2019. There is no</div>
<div class="abs sub" style="top:69.6px;letter-spacing:-0.09px">defined 'safe' level for lead blood concentrations. The WHO adopts a threshold of 5 µg/dL as an achievable</div>
<div class="abs sub" style="top:87.2px;letter-spacing:-0.08px">maximum level in children.</div>
<div id="logo" class="abs"><div style="top:5.5px">Our World</div><div style="top:17px">in Data</div></div>
<div class="abs foot" style="top:533px;letter-spacing:-0.113px"><b style="letter-spacing:-0.5px">Data source:</b> Ericson et al. (2021). Blood lead levels in low-income and middle-income countries: a systematic review. The Lancet Planetary</div>
<div class="abs foot" style="top:549.4px;letter-spacing:-0.1px">Health.</div>
<div class="abs foot" style="top:569px;letter-spacing:0px">OurWorldinData.org/lead-pollution | CC BY</div>
</body></html>
